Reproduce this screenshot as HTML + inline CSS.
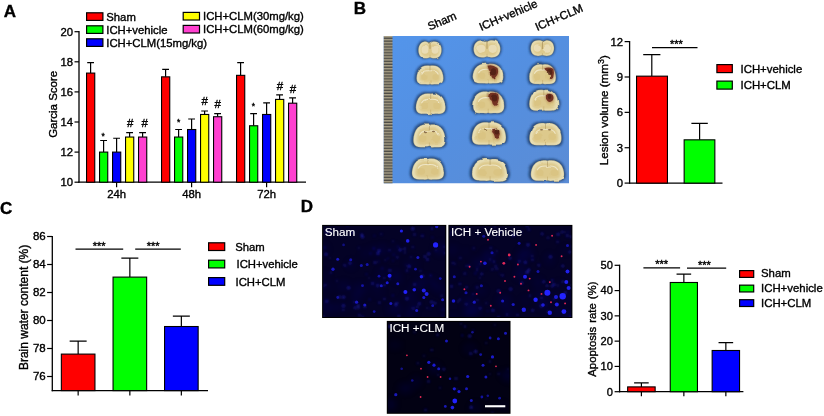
<!DOCTYPE html>
<html><head><meta charset="utf-8"><title>Figure</title>
<style>
html,body{margin:0;padding:0;background:#fff;}
body{width:824px;height:416px;overflow:hidden;font-family:"Liberation Sans",sans-serif;}
svg{display:block;filter:blur(0.35px)}
svg text{font-family:"Liberation Sans",sans-serif;stroke:#000;stroke-width:0.36px;} svg text.w{stroke:#fff;stroke-width:0.12px}
</style></head><body>
<svg width="824" height="416" viewBox="0 0 824 416">
<rect width="824" height="416" fill="#fff"/>
<text x="3.70" y="16.60" font-size="17" text-anchor="start" font-weight="bold" fill="#000" >A</text>
<text x="353.70" y="13.80" font-size="17" text-anchor="start" font-weight="bold" fill="#000" >B</text>
<text x="0.00" y="213.60" font-size="17" text-anchor="start" font-weight="bold" fill="#000" >C</text>
<text x="300.80" y="212.10" font-size="17" text-anchor="start" font-weight="bold" fill="#000" >D</text>
<line x1="79.00" y1="31.10" x2="79.00" y2="182.80" stroke="#000" stroke-width="1.3"/>
<line x1="78.40" y1="182.20" x2="306.00" y2="182.20" stroke="#000" stroke-width="1.3"/>
<line x1="74.50" y1="182.20" x2="79.00" y2="182.20" stroke="#000" stroke-width="1.2"/>
<text x="73.00" y="186.20" font-size="11.3" text-anchor="end" font-weight="normal" fill="#000" >10</text>
<line x1="74.50" y1="152.10" x2="79.00" y2="152.10" stroke="#000" stroke-width="1.2"/>
<text x="73.00" y="156.10" font-size="11.3" text-anchor="end" font-weight="normal" fill="#000" >12</text>
<line x1="74.50" y1="122.00" x2="79.00" y2="122.00" stroke="#000" stroke-width="1.2"/>
<text x="73.00" y="126.00" font-size="11.3" text-anchor="end" font-weight="normal" fill="#000" >14</text>
<line x1="74.50" y1="91.90" x2="79.00" y2="91.90" stroke="#000" stroke-width="1.2"/>
<text x="73.00" y="95.90" font-size="11.3" text-anchor="end" font-weight="normal" fill="#000" >16</text>
<line x1="74.50" y1="61.80" x2="79.00" y2="61.80" stroke="#000" stroke-width="1.2"/>
<text x="73.00" y="65.80" font-size="11.3" text-anchor="end" font-weight="normal" fill="#000" >18</text>
<line x1="74.50" y1="31.70" x2="79.00" y2="31.70" stroke="#000" stroke-width="1.2"/>
<text x="73.00" y="35.70" font-size="11.3" text-anchor="end" font-weight="normal" fill="#000" >20</text>
<text x="56.80" y="104.30" font-size="11.5" text-anchor="middle" font-weight="normal" fill="#000" transform="rotate(-90 56.8 104.3)">Garcia Score</text>
<path d="M90.60 73.09V62.55M87.20 62.55H94.00" stroke="#000" stroke-width="1.2" fill="none"/>
<rect x="86.55" y="73.09" width="8.20" height="109.11" fill="#ff0000" stroke="#000" stroke-width="1.1"/>
<path d="M103.60 152.10V140.51M100.20 140.51H107.00" stroke="#000" stroke-width="1.2" fill="none"/>
<rect x="99.55" y="152.10" width="8.20" height="30.10" fill="#00ff00" stroke="#000" stroke-width="1.1"/>
<path d="M116.60 152.10V138.25M113.20 138.25H120.00" stroke="#000" stroke-width="1.2" fill="none"/>
<rect x="112.55" y="152.10" width="8.20" height="30.10" fill="#0000ff" stroke="#000" stroke-width="1.1"/>
<path d="M129.60 137.05V132.53M126.20 132.53H133.00" stroke="#000" stroke-width="1.2" fill="none"/>
<rect x="125.55" y="137.05" width="8.20" height="45.15" fill="#ffff00" stroke="#000" stroke-width="1.1"/>
<path d="M142.60 137.05V132.53M139.20 132.53H146.00" stroke="#000" stroke-width="1.2" fill="none"/>
<rect x="138.55" y="137.05" width="8.20" height="45.15" fill="#ff40d0" stroke="#000" stroke-width="1.1"/>
<line x1="116.60" y1="182.20" x2="116.60" y2="187.20" stroke="#000" stroke-width="1.2"/>
<text x="116.60" y="197.50" font-size="11.3" text-anchor="middle" font-weight="normal" fill="#000" >24h</text>
<path d="M165.60 76.85V69.32M162.20 69.32H169.00" stroke="#000" stroke-width="1.2" fill="none"/>
<rect x="161.55" y="76.85" width="8.20" height="105.35" fill="#ff0000" stroke="#000" stroke-width="1.1"/>
<path d="M178.60 137.05V129.52M175.20 129.52H182.00" stroke="#000" stroke-width="1.2" fill="none"/>
<rect x="174.55" y="137.05" width="8.20" height="45.15" fill="#00ff00" stroke="#000" stroke-width="1.1"/>
<path d="M191.60 129.52V118.99M188.20 118.99H195.00" stroke="#000" stroke-width="1.2" fill="none"/>
<rect x="187.55" y="129.52" width="8.20" height="52.68" fill="#0000ff" stroke="#000" stroke-width="1.1"/>
<path d="M204.60 114.47V111.01M201.20 111.01H208.00" stroke="#000" stroke-width="1.2" fill="none"/>
<rect x="200.55" y="114.47" width="8.20" height="67.73" fill="#ffff00" stroke="#000" stroke-width="1.1"/>
<path d="M217.60 116.73V113.72M214.20 113.72H221.00" stroke="#000" stroke-width="1.2" fill="none"/>
<rect x="213.55" y="116.73" width="8.20" height="65.47" fill="#ff40d0" stroke="#000" stroke-width="1.1"/>
<line x1="191.60" y1="182.20" x2="191.60" y2="187.20" stroke="#000" stroke-width="1.2"/>
<text x="191.60" y="197.50" font-size="11.3" text-anchor="middle" font-weight="normal" fill="#000" >48h</text>
<path d="M240.60 75.34V62.55M237.20 62.55H244.00" stroke="#000" stroke-width="1.2" fill="none"/>
<rect x="236.55" y="75.34" width="8.20" height="106.86" fill="#ff0000" stroke="#000" stroke-width="1.1"/>
<path d="M253.60 125.76V113.72M250.20 113.72H257.00" stroke="#000" stroke-width="1.2" fill="none"/>
<rect x="249.55" y="125.76" width="8.20" height="56.44" fill="#00ff00" stroke="#000" stroke-width="1.1"/>
<path d="M266.60 114.47V102.89M263.20 102.89H270.00" stroke="#000" stroke-width="1.2" fill="none"/>
<rect x="262.55" y="114.47" width="8.20" height="67.73" fill="#0000ff" stroke="#000" stroke-width="1.1"/>
<path d="M279.60 99.42V94.91M276.20 94.91H283.00" stroke="#000" stroke-width="1.2" fill="none"/>
<rect x="275.55" y="99.42" width="8.20" height="82.78" fill="#ffff00" stroke="#000" stroke-width="1.1"/>
<path d="M292.60 103.19V97.92M289.20 97.92H296.00" stroke="#000" stroke-width="1.2" fill="none"/>
<rect x="288.55" y="103.19" width="8.20" height="79.01" fill="#ff40d0" stroke="#000" stroke-width="1.1"/>
<line x1="266.60" y1="182.20" x2="266.60" y2="187.20" stroke="#000" stroke-width="1.2"/>
<text x="266.60" y="197.50" font-size="11.3" text-anchor="middle" font-weight="normal" fill="#000" >72h</text>
<text x="130.20" y="126.80" font-size="11.5" text-anchor="middle" font-weight="normal" fill="#000" >#</text>
<text x="144.80" y="126.80" font-size="11.5" text-anchor="middle" font-weight="normal" fill="#000" >#</text>
<text x="204.80" y="105.20" font-size="11.5" text-anchor="middle" font-weight="normal" fill="#000" >#</text>
<text x="217.80" y="108.30" font-size="11.5" text-anchor="middle" font-weight="normal" fill="#000" >#</text>
<text x="280.00" y="90.00" font-size="11.5" text-anchor="middle" font-weight="normal" fill="#000" >#</text>
<text x="293.00" y="93.30" font-size="11.5" text-anchor="middle" font-weight="normal" fill="#000" >#</text>
<text x="103.20" y="138.90" font-size="8.5" text-anchor="middle" font-weight="normal" fill="#000" >*</text>
<text x="178.60" y="124.90" font-size="8.5" text-anchor="middle" font-weight="normal" fill="#000" >*</text>
<text x="253.40" y="109.40" font-size="8.5" text-anchor="middle" font-weight="normal" fill="#000" >*</text>
<rect x="86.60" y="12.80" width="16.30" height="7.60" fill="#ff0000" stroke="#000" stroke-width="1.2"/>
<text x="106.30" y="20.60" font-size="11.3" text-anchor="start" font-weight="normal" fill="#000" >Sham</text>
<rect x="86.60" y="25.80" width="16.30" height="7.60" fill="#00ff00" stroke="#000" stroke-width="1.2"/>
<text x="106.30" y="33.60" font-size="11.3" text-anchor="start" font-weight="normal" fill="#000" >ICH+vehicle</text>
<rect x="86.60" y="38.80" width="16.30" height="7.60" fill="#0000ff" stroke="#000" stroke-width="1.2"/>
<text x="106.30" y="46.60" font-size="11.3" text-anchor="start" font-weight="normal" fill="#000" >ICH+CLM(15mg/kg)</text>
<rect x="183.20" y="12.40" width="16.30" height="7.60" fill="#ffff00" stroke="#000" stroke-width="1.2"/>
<text x="203.00" y="20.30" font-size="11.3" text-anchor="start" font-weight="normal" fill="#000" >ICH+CLM(30mg/kg)</text>
<rect x="183.20" y="25.40" width="16.30" height="7.60" fill="#ff40d0" stroke="#000" stroke-width="1.2"/>
<text x="203.00" y="33.30" font-size="11.3" text-anchor="start" font-weight="normal" fill="#000" >ICH+CLM(60mg/kg)</text>
<defs>
<linearGradient id="bluebg" x1="0" y1="0" x2="1" y2="1">
<stop offset="0" stop-color="#5395eb"/><stop offset="0.5" stop-color="#548fe0"/><stop offset="1" stop-color="#5b8cd5"/></linearGradient>
<radialGradient id="brain" cx="0.5" cy="0.5" r="0.5">
<stop offset="0" stop-color="#e6d08a"/><stop offset="0.7" stop-color="#ead9a0"/><stop offset="1" stop-color="#efe4c0"/></radialGradient>
<pattern id="ruler" x="383.5" y="36.0" width="9" height="2.9" patternUnits="userSpaceOnUse">
<rect width="9" height="2.9" fill="#a89f86"/><rect y="1.5" width="9" height="1.4" fill="#4e4c46"/></pattern>
<filter id="b1" x="-5%" y="-5%" width="110%" height="110%"><feTurbulence type="fractalNoise" baseFrequency="0.09" numOctaves="2" seed="4" result="n"/><feDisplacementMap in="SourceGraphic" in2="n" scale="2.6" xChannelSelector="R" yChannelSelector="G" result="d"/><feGaussianBlur in="d" stdDeviation="0.9"/></filter>
<filter id="b2" x="-5%" y="-5%" width="110%" height="110%"><feTurbulence type="fractalNoise" baseFrequency="0.09" numOctaves="2" seed="4" result="n"/><feDisplacementMap in="SourceGraphic" in2="n" scale="2.6" xChannelSelector="R" yChannelSelector="G" result="d"/><feGaussianBlur in="d" stdDeviation="0.6"/></filter>
<filter id="b3" x="-50%" y="-50%" width="200%" height="200%"><feGaussianBlur stdDeviation="0.8"/></filter>
<filter id="b6" x="-50%" y="-50%" width="200%" height="200%"><feGaussianBlur stdDeviation="0.7"/></filter>
<filter id="b4" x="-50%" y="-50%" width="200%" height="200%"><feGaussianBlur stdDeviation="0.85"/></filter>
<filter id="b5" x="-50%" y="-50%" width="200%" height="200%"><feGaussianBlur stdDeviation="3"/></filter>
<clipPath id="pclip"><rect x="383.5" y="36.0" width="185.5" height="147.5"/></clipPath>
</defs>
<g clip-path="url(#pclip)">
<rect x="383.5" y="36.0" width="185.5" height="147.5" fill="url(#bluebg)"/>
<rect x="383.5" y="36.0" width="9" height="147.5" fill="url(#ruler)"/>
<g filter="url(#b1)">
<path d="M 429.70,42.22 C 432.34,38.93 438.95,39.43 441.33,43.92 C 443.58,48.40 442.92,53.89 440.27,56.88 C 437.63,59.37 432.34,59.57 429.70,57.57 C 427.06,59.57 421.77,59.37 419.13,56.88 C 416.48,53.89 415.82,48.40 418.07,43.92 C 420.45,39.43 427.06,38.93 429.70,42.22 Z" fill="#22406f" opacity="0.85"/>
<path d="M 486.70,41.06 C 489.75,37.70 497.36,38.21 500.10,42.79 C 502.69,47.38 501.93,52.99 498.89,56.04 C 495.84,58.59 489.75,58.80 486.70,56.76 C 483.65,58.80 477.56,58.59 474.51,56.04 C 471.47,52.99 470.71,47.38 473.30,42.79 C 476.04,38.21 483.65,37.70 486.70,41.06 Z" fill="#22406f" opacity="0.85"/>
<path d="M 542.10,40.91 C 544.77,37.84 551.43,38.30 553.83,42.49 C 556.09,46.67 555.43,51.78 552.76,54.57 C 550.10,56.90 544.77,57.08 542.10,55.22 C 539.43,57.08 534.10,56.90 531.44,54.57 C 528.77,51.78 528.11,46.67 530.37,42.49 C 532.77,38.30 539.43,37.84 542.10,40.91 Z" fill="#22406f" opacity="0.85"/>
<path d="M 429.70,64.29 C 434.20,63.07 439.61,64.40 442.31,69.06 C 444.26,72.38 445.31,77.93 444.41,81.03 C 443.66,84.14 440.51,85.36 436.45,85.02 C 434.20,84.91 431.95,85.69 429.70,84.58 C 427.45,85.69 425.20,84.91 422.95,85.02 C 418.89,85.36 415.74,84.14 414.99,81.03 C 414.09,77.93 415.14,72.38 417.09,69.06 C 419.79,64.40 425.20,63.07 429.70,64.29 Z" fill="#22406f" opacity="0.85"/>
<path d="M 487.70,62.68 C 492.84,61.42 499.01,62.79 502.09,67.59 C 504.32,71.02 505.52,76.73 504.49,79.93 C 503.64,83.12 500.04,84.38 495.41,84.04 C 492.84,83.92 490.27,84.72 487.70,83.58 C 485.13,84.72 482.56,83.92 479.99,84.04 C 475.36,84.38 471.76,83.12 470.91,79.93 C 469.88,76.73 471.08,71.02 473.31,67.59 C 476.39,62.79 482.56,61.42 487.70,62.68 Z" fill="#22406f" opacity="0.85"/>
<path d="M 542.30,63.17 C 546.77,61.90 552.13,63.29 554.81,68.13 C 556.75,71.59 557.79,77.36 556.90,80.59 C 556.15,83.82 553.03,85.09 549.00,84.74 C 546.77,84.63 544.53,85.44 542.30,84.28 C 540.07,85.44 537.83,84.63 535.60,84.74 C 531.57,85.09 528.45,83.82 527.70,80.59 C 526.81,77.36 527.85,71.59 529.79,68.13 C 532.47,63.29 537.83,61.90 542.30,63.17 Z" fill="#22406f" opacity="0.85"/>
<path d="M 430.40,92.25 C 435.37,90.94 441.34,92.37 444.32,97.41 C 446.48,101.00 447.64,107.00 446.64,110.35 C 445.82,113.71 442.33,115.02 437.86,114.66 C 435.37,114.55 432.89,115.38 430.40,114.19 C 427.91,115.38 425.43,114.55 422.94,114.66 C 418.47,115.02 414.98,113.71 414.16,110.35 C 413.16,107.00 414.32,101.00 416.48,97.41 C 419.46,92.37 425.43,90.94 430.40,92.25 Z" fill="#22406f" opacity="0.85"/>
<path d="M 487.90,90.33 C 493.28,88.94 499.73,90.46 502.95,95.77 C 505.28,99.57 506.54,105.90 505.46,109.44 C 504.57,112.98 500.80,114.38 495.96,114.00 C 493.28,113.87 490.59,114.76 487.90,113.49 C 485.21,114.76 482.52,113.87 479.84,114.00 C 475.00,114.38 471.23,112.98 470.34,109.44 C 469.26,105.90 470.52,99.57 472.85,95.77 C 476.07,90.46 482.52,88.94 487.90,90.33 Z" fill="#22406f" opacity="0.85"/>
<path d="M 543.50,88.65 C 548.37,87.30 554.22,88.77 557.14,93.90 C 559.25,97.56 560.39,103.66 559.42,107.08 C 558.60,110.50 555.19,111.84 550.81,111.48 C 548.37,111.35 545.94,112.21 543.50,110.99 C 541.06,112.21 538.63,111.35 536.19,111.48 C 531.81,111.84 528.40,110.50 527.58,107.08 C 526.61,103.66 527.75,97.56 529.86,93.90 C 532.78,88.77 538.63,87.30 543.50,88.65 Z" fill="#22406f" opacity="0.85"/>
<path d="M 429.10,123.10 C 434.48,121.62 440.93,123.24 444.15,128.88 C 446.48,132.91 447.74,139.63 446.66,143.40 C 445.77,147.16 442.00,148.64 437.16,148.23 C 434.48,148.10 431.79,149.04 429.10,147.70 C 426.41,149.04 423.72,148.10 421.04,148.23 C 416.20,148.64 412.43,147.16 411.54,143.40 C 410.46,139.63 411.72,132.91 414.05,128.88 C 417.27,123.24 423.72,121.62 429.10,123.10 Z" fill="#22406f" opacity="0.85"/>
<path d="M 488.70,120.91 C 494.41,119.46 501.27,121.04 504.69,126.59 C 507.17,130.56 508.50,137.16 507.36,140.87 C 506.41,144.57 502.41,146.02 497.27,145.62 C 494.41,145.49 491.56,146.42 488.70,145.09 C 485.84,146.42 482.99,145.49 480.13,145.62 C 474.99,146.02 470.99,144.57 470.04,140.87 C 468.90,137.16 470.23,130.56 472.71,126.59 C 476.13,121.04 482.99,119.46 488.70,120.91 Z" fill="#22406f" opacity="0.85"/>
<path d="M 545.20,121.82 C 550.58,120.39 557.03,121.95 560.25,127.40 C 562.58,131.30 563.84,137.80 562.76,141.44 C 561.87,145.07 558.10,146.50 553.26,146.11 C 550.58,145.98 547.89,146.89 545.20,145.59 C 542.51,146.89 539.82,145.98 537.14,146.11 C 532.30,146.50 528.53,145.07 527.64,141.44 C 526.56,137.80 527.82,131.30 530.15,127.40 C 533.37,121.95 539.82,120.39 545.20,121.82 Z" fill="#22406f" opacity="0.85"/>
<path d="M 427.70,157.34 C 433.08,155.99 439.53,157.47 442.75,162.64 C 445.08,166.34 446.34,172.50 445.26,175.95 C 444.37,179.40 440.60,180.75 435.76,180.38 C 433.08,180.26 430.39,181.12 427.70,179.89 C 425.01,181.12 422.32,180.26 419.64,180.38 C 414.80,180.75 411.03,179.40 410.14,175.95 C 409.06,172.50 410.32,166.34 412.65,162.64 C 415.87,157.47 422.32,155.99 427.70,157.34 Z" fill="#22406f" opacity="0.85"/>
<path d="M 489.80,157.73 C 495.85,156.32 503.11,157.85 506.73,163.22 C 509.36,167.05 510.77,173.43 509.56,177.01 C 508.55,180.58 504.32,181.98 498.87,181.60 C 495.85,181.47 492.82,182.37 489.80,181.09 C 486.78,182.37 483.75,181.47 480.73,181.60 C 475.28,181.98 471.05,180.58 470.04,177.01 C 468.83,173.43 470.24,167.05 472.87,163.22 C 476.49,157.85 483.75,156.32 489.80,157.73 Z" fill="#22406f" opacity="0.85"/>
<path d="M 547.20,159.15 C 552.78,157.84 559.47,159.27 562.82,164.31 C 565.23,167.90 566.54,173.90 565.42,177.25 C 564.49,180.61 560.59,181.92 555.57,181.56 C 552.78,181.45 549.99,182.28 547.20,181.09 C 544.41,182.28 541.62,181.45 538.83,181.56 C 533.81,181.92 529.91,180.61 528.98,177.25 C 527.86,173.90 529.17,167.90 531.58,164.31 C 534.93,159.27 541.62,157.84 547.20,159.15 Z" fill="#22406f" opacity="0.85"/>
</g><g filter="url(#b2)">
<path d="M 430.00,43.39 C 432.36,40.45 438.26,40.90 440.38,44.90 C 442.39,48.91 441.80,53.80 439.44,56.47 C 437.08,58.70 432.36,58.88 430.00,57.10 C 427.64,58.88 422.92,58.70 420.56,56.47 C 418.20,53.80 417.61,48.91 419.62,44.90 C 421.74,40.90 427.64,40.45 430.00,43.39 Z" fill="#e8dfb6" stroke="#7d7a5e" stroke-width="0.5" stroke-opacity="0.6"/>
<path d="M 430.00,44.97 C 431.89,42.62 436.61,42.98 438.31,46.18 C 439.91,49.39 439.44,53.30 437.55,55.44 C 435.66,57.22 431.89,57.36 430.00,55.94 C 428.11,57.36 424.34,57.22 422.45,55.44 C 420.56,53.30 420.09,49.39 421.69,46.18 C 423.39,42.98 428.11,42.62 430.00,44.97 Z" fill="#ddc98c" filter="url(#b3)"/>
<ellipse cx="425.0" cy="49.8" rx="3.5" ry="4.0" fill="#f1ead0" opacity="0.6"/>
<ellipse cx="435.0" cy="49.8" rx="3.5" ry="4.0" fill="#f1ead0" opacity="0.6"/>
<path d="M430 41.967999999999996V49.8" stroke="#a8905a" stroke-width="0.9" opacity="0.9"/>
<path d="M430 54.695V57.988" stroke="#c3a868" stroke-width="0.9" opacity="0.6"/>
<path d="M 487.00,42.25 C 489.72,39.24 496.52,39.70 498.97,43.79 C 501.28,47.89 500.60,52.89 497.88,55.62 C 495.16,57.90 489.72,58.08 487.00,56.26 C 484.28,58.08 478.84,57.90 476.12,55.62 C 473.40,52.89 472.72,47.89 475.03,43.79 C 477.48,39.70 484.28,39.24 487.00,42.25 Z" fill="#e8dfb6" stroke="#7d7a5e" stroke-width="0.5" stroke-opacity="0.6"/>
<path d="M 487.00,43.86 C 489.18,41.46 494.62,41.82 496.57,45.10 C 498.42,48.37 497.88,52.38 495.70,54.56 C 493.53,56.38 489.18,56.53 487.00,55.07 C 484.82,56.53 480.47,56.38 478.30,54.56 C 476.12,52.38 475.58,48.37 477.43,45.10 C 479.38,41.82 484.82,41.46 487.00,43.86 Z" fill="#ddc98c" filter="url(#b3)"/>
<ellipse cx="481.3" cy="48.8" rx="4.1" ry="4.1" fill="#f1ead0" opacity="0.6"/>
<ellipse cx="492.7" cy="48.8" rx="4.1" ry="4.1" fill="#f1ead0" opacity="0.6"/>
<path d="M487 40.792V48.8" stroke="#a8905a" stroke-width="0.9" opacity="0.9"/>
<path d="M487 53.805V57.172" stroke="#c3a868" stroke-width="0.9" opacity="0.6"/>
<path d="M 542.40,42.02 C 544.78,39.28 550.73,39.70 552.87,43.44 C 554.89,47.17 554.30,51.73 551.92,54.23 C 549.54,56.30 544.78,56.47 542.40,54.81 C 540.02,56.47 535.26,56.30 532.88,54.23 C 530.50,51.73 529.90,47.17 531.93,43.44 C 534.07,39.70 540.02,39.28 542.40,42.02 Z" fill="#e8dfb6" stroke="#7d7a5e" stroke-width="0.5" stroke-opacity="0.6"/>
<path d="M 542.40,43.52 C 544.30,41.33 549.06,41.66 550.78,44.65 C 552.40,47.64 551.92,51.29 550.02,53.28 C 548.11,54.94 544.30,55.07 542.40,53.74 C 540.50,55.07 536.69,54.94 534.78,53.28 C 532.88,51.29 532.40,47.64 534.02,44.65 C 535.74,41.66 540.50,41.33 542.40,43.52 Z" fill="#ddc98c" filter="url(#b3)"/>
<ellipse cx="537.4" cy="48.0" rx="3.6" ry="3.7" fill="#f1ead0" opacity="0.6"/>
<ellipse cx="547.4" cy="48.0" rx="3.6" ry="3.7" fill="#f1ead0" opacity="0.6"/>
<path d="M542.4 40.696V48.0" stroke="#a8905a" stroke-width="0.9" opacity="0.9"/>
<path d="M542.4 52.565V55.636" stroke="#c3a868" stroke-width="0.9" opacity="0.6"/>
<path d="M 430.00,65.79 C 434.02,64.70 438.84,65.89 441.26,70.05 C 443.00,73.02 443.94,77.97 443.13,80.74 C 442.46,83.51 439.65,84.60 436.03,84.31 C 434.02,84.21 432.01,84.90 430.00,83.91 C 427.99,84.90 425.98,84.21 423.97,84.31 C 420.35,84.60 417.54,83.51 416.87,80.74 C 416.06,77.97 417.00,73.02 418.74,70.05 C 421.16,65.89 425.98,64.70 430.00,65.79 Z" fill="#e8dfb6" stroke="#7d7a5e" stroke-width="0.5" stroke-opacity="0.6"/>
<path d="M 430.00,67.93 C 433.22,67.06 437.08,68.01 439.00,71.34 C 440.40,73.72 441.15,77.68 440.51,79.89 C 439.97,82.11 437.72,82.98 434.82,82.74 C 433.22,82.67 431.61,83.22 430.00,82.43 C 428.39,83.22 426.78,82.67 425.18,82.74 C 422.28,82.98 420.03,82.11 419.49,79.89 C 418.85,77.68 419.60,73.72 421.00,71.34 C 422.92,68.01 426.78,67.06 430.00,67.93 Z" fill="#ddc98c" filter="url(#b3)"/>
<path d="M421.7 74.5 Q423.3 70.0 430.0 70.8 Q436.7 70.0 438.3 74.5" stroke="#f4efd8" stroke-width="1.1" fill="none" opacity="0.75"/>
<ellipse cx="424.4" cy="77.0" rx="3.2" ry="3.0" fill="#d7be78" opacity="0.45"/>
<ellipse cx="435.6" cy="77.0" rx="3.2" ry="3.0" fill="#d7be78" opacity="0.45"/>
<path d="M430 66.288V70.545" stroke="#a8905a" stroke-width="0.9" opacity="0.6"/>
<path d="M430 80.445V84.108" stroke="#c3a868" stroke-width="0.9" opacity="0.6"/>
<path d="M 488.00,64.21 C 492.59,63.09 498.10,64.32 500.85,68.60 C 502.84,71.66 503.91,76.76 502.99,79.62 C 502.23,82.47 499.02,83.59 494.88,83.29 C 492.59,83.19 490.30,83.90 488.00,82.88 C 485.70,83.90 483.41,83.19 481.12,83.29 C 476.98,83.59 473.77,82.47 473.01,79.62 C 472.09,76.76 473.16,71.66 475.15,68.60 C 477.90,64.32 483.41,63.09 488.00,64.21 Z" fill="#e8dfb6" stroke="#7d7a5e" stroke-width="0.5" stroke-opacity="0.6"/>
<path d="M 488.00,66.41 C 491.67,65.51 496.08,66.49 498.28,69.92 C 499.87,72.37 500.73,76.45 500.00,78.73 C 499.38,81.02 496.81,81.92 493.51,81.67 C 491.67,81.59 489.84,82.16 488.00,81.34 C 486.16,82.16 484.33,81.59 482.49,81.67 C 479.19,81.92 476.62,81.02 476.00,78.73 C 475.27,76.45 476.13,72.37 477.72,69.92 C 479.92,66.49 484.33,65.51 488.00,66.41 Z" fill="#ddc98c" filter="url(#b3)"/>
<path d="M478.5 73.2 Q480.4 68.6 488.0 69.4 Q495.6 68.6 497.5 73.2" stroke="#f4efd8" stroke-width="1.1" fill="none" opacity="0.75"/>
<ellipse cx="481.6" cy="75.7" rx="3.7" ry="3.1" fill="#d7be78" opacity="0.45"/>
<ellipse cx="494.4" cy="75.7" rx="3.7" ry="3.1" fill="#d7be78" opacity="0.45"/>
<path d="M488 64.724V69.11" stroke="#a8905a" stroke-width="0.9" opacity="0.6"/>
<path d="M488 79.31V83.084" stroke="#c3a868" stroke-width="0.9" opacity="0.6"/>
<path d="M487,65 Q492,63.3 498,67.5 Q499.6,72 497.6,75.2 Q495,79.8 492.6,79 Q490.4,76 490.8,72.5 Q487.6,70 487,65 Z" fill="#96543a" opacity="0.5" stroke="#96543a" stroke-width="0.8" filter="url(#b3)"/>
<path d="M487,65 Q492,63.3 498,67.5 Q499.6,72 497.6,75.2 Q495,79.8 492.6,79 Q490.4,76 490.8,72.5 Q487.6,70 487,65 Z" fill="#733222" transform="translate(492.9 72.2) scale(0.9) translate(-492.9 -72.2)"/>
<ellipse cx="493.5" cy="71.8" rx="2.7" ry="3.5" fill="#4a1c12" opacity="0.75"/>
<path d="M 542.60,64.72 C 546.59,63.59 551.38,64.82 553.77,69.15 C 555.50,72.24 556.43,77.39 555.63,80.27 C 554.97,83.16 552.18,84.29 548.59,83.98 C 546.59,83.88 544.60,84.60 542.60,83.57 C 540.61,84.60 538.61,83.88 536.62,83.98 C 533.02,84.29 530.23,83.16 529.57,80.27 C 528.77,77.39 529.70,72.24 531.43,69.15 C 533.82,64.82 538.61,63.59 542.60,64.72 Z" fill="#e8dfb6" stroke="#7d7a5e" stroke-width="0.5" stroke-opacity="0.6"/>
<path d="M 542.60,66.94 C 545.79,66.03 549.62,67.02 551.54,70.48 C 552.92,72.95 553.67,77.07 553.03,79.38 C 552.50,81.69 550.26,82.59 547.39,82.35 C 545.79,82.26 544.20,82.84 542.60,82.02 C 541.00,82.84 539.41,82.26 537.81,82.35 C 534.94,82.59 532.70,81.69 532.17,79.38 C 531.53,77.07 532.28,72.95 533.66,70.48 C 535.58,67.02 539.41,66.03 542.60,66.94 Z" fill="#ddc98c" filter="url(#b3)"/>
<path d="M534.4 73.8 Q536.0 69.1 542.6 70.0 Q549.2 69.1 550.8 73.8" stroke="#f4efd8" stroke-width="1.1" fill="none" opacity="0.75"/>
<ellipse cx="537.0" cy="76.4" rx="3.2" ry="3.1" fill="#d7be78" opacity="0.45"/>
<ellipse cx="548.2" cy="76.4" rx="3.2" ry="3.1" fill="#d7be78" opacity="0.45"/>
<path d="M542.6 65.23599999999999V69.66499999999999" stroke="#a8905a" stroke-width="0.9" opacity="0.6"/>
<path d="M542.6 79.965V83.776" stroke="#c3a868" stroke-width="0.9" opacity="0.6"/>
<path d="M543.8,68 Q549,65.8 554,68.5 Q555.2,73 553.6,78 Q552,80.6 550.1,79.5 Q550.4,75 549.4,71.6 Q546,71.6 543.8,68 Z" fill="#96543a" opacity="0.5" stroke="#96543a" stroke-width="0.8" filter="url(#b3)"/>
<path d="M543.8,68 Q549,65.8 554,68.5 Q555.2,73 553.6,78 Q552,80.6 550.1,79.5 Q550.4,75 549.4,71.6 Q546,71.6 543.8,68 Z" fill="#733222" transform="translate(548.9 72.8) scale(0.9) translate(-548.9 -72.8)"/>
<ellipse cx="549.5" cy="72.2" rx="2.6" ry="3.2" fill="#4a1c12" opacity="0.75"/>
<path d="M 430.70,93.85 C 435.14,92.67 440.47,93.96 443.13,98.45 C 445.06,101.66 446.09,107.01 445.20,110.01 C 444.46,113.00 441.36,114.18 437.36,113.86 C 435.14,113.75 432.92,114.50 430.70,113.43 C 428.48,114.50 426.26,113.75 424.04,113.86 C 420.04,114.18 416.94,113.00 416.20,110.01 C 415.31,107.01 416.34,101.66 418.27,98.45 C 420.93,93.96 426.26,92.67 430.70,93.85 Z" fill="#e8dfb6" stroke="#7d7a5e" stroke-width="0.5" stroke-opacity="0.6"/>
<path d="M 430.70,96.14 C 434.25,95.20 438.51,96.22 440.65,99.82 C 442.18,102.39 443.01,106.67 442.30,109.06 C 441.71,111.46 439.22,112.40 436.03,112.15 C 434.25,112.06 432.48,112.66 430.70,111.80 C 428.92,112.66 427.15,112.06 425.37,112.15 C 422.18,112.40 419.69,111.46 419.10,109.06 C 418.39,106.67 419.22,102.39 420.75,99.82 C 422.89,96.22 427.15,95.20 430.70,96.14 Z" fill="#ddc98c" filter="url(#b3)"/>
<path d="M421.5 103.3 Q423.3 98.5 430.7 99.3 Q438.1 98.5 439.9 103.3" stroke="#f4efd8" stroke-width="1.1" fill="none" opacity="0.75"/>
<ellipse cx="424.5" cy="105.9" rx="3.6" ry="3.2" fill="#d7be78" opacity="0.45"/>
<ellipse cx="436.9" cy="105.9" rx="3.6" ry="3.2" fill="#d7be78" opacity="0.45"/>
<path d="M430.7 94.384V98.985" stroke="#a8905a" stroke-width="0.9" opacity="0.6"/>
<path d="M430.7 109.685V113.64399999999999" stroke="#c3a868" stroke-width="0.9" opacity="0.6"/>
<path d="M 488.20,91.99 C 493.00,90.75 498.76,92.10 501.64,96.85 C 503.72,100.24 504.84,105.89 503.88,109.05 C 503.08,112.22 499.72,113.46 495.40,113.12 C 493.00,113.01 490.60,113.80 488.20,112.67 C 485.80,113.80 483.40,113.01 481.00,113.12 C 476.68,113.46 473.32,112.22 472.52,109.05 C 471.56,105.89 472.68,100.24 474.76,96.85 C 477.64,92.10 483.40,90.75 488.20,91.99 Z" fill="#e8dfb6" stroke="#7d7a5e" stroke-width="0.5" stroke-opacity="0.6"/>
<path d="M 488.20,94.39 C 492.04,93.40 496.65,94.48 498.95,98.28 C 500.62,100.99 501.51,105.51 500.74,108.04 C 500.10,110.57 497.42,111.57 493.96,111.30 C 492.04,111.21 490.12,111.84 488.20,110.94 C 486.28,111.84 484.36,111.21 482.44,111.30 C 478.98,111.57 476.30,110.57 475.66,108.04 C 474.89,105.51 475.78,100.99 477.45,98.28 C 479.75,94.48 484.36,93.40 488.20,94.39 Z" fill="#ddc98c" filter="url(#b3)"/>
<path d="M478.3 101.9 Q480.2 96.8 488.2 97.8 Q496.2 96.8 498.1 101.9" stroke="#f4efd8" stroke-width="1.1" fill="none" opacity="0.75"/>
<ellipse cx="481.5" cy="104.8" rx="3.8" ry="3.4" fill="#d7be78" opacity="0.45"/>
<ellipse cx="494.9" cy="104.8" rx="3.8" ry="3.4" fill="#d7be78" opacity="0.45"/>
<path d="M488.2 92.556V97.41499999999999" stroke="#a8905a" stroke-width="0.9" opacity="0.6"/>
<path d="M488.2 108.715V112.896" stroke="#c3a868" stroke-width="0.9" opacity="0.6"/>
<path d="M489.5,93 Q494,90.8 498.6,93.5 Q500.2,98 498.6,102 Q497,107 494.4,106.5 Q492,105 491.5,101 Q487.3,99 489.5,93 Z" fill="#96543a" opacity="0.5" stroke="#96543a" stroke-width="0.8" filter="url(#b3)"/>
<path d="M489.5,93 Q494,90.8 498.6,93.5 Q500.2,98 498.6,102 Q497,107 494.4,106.5 Q492,105 491.5,101 Q487.3,99 489.5,93 Z" fill="#733222" transform="translate(494.0 98.5) scale(0.9) translate(-494.0 -98.5)"/>
<ellipse cx="494.6" cy="98.0" rx="2.6" ry="3.6" fill="#4a1c12" opacity="0.75"/>
<path d="M 543.80,90.26 C 548.15,89.06 553.37,90.37 555.98,94.95 C 557.87,98.22 558.88,103.67 558.01,106.72 C 557.28,109.77 554.24,110.97 550.32,110.65 C 548.15,110.54 545.97,111.30 543.80,110.21 C 541.62,111.30 539.45,110.54 537.27,110.65 C 533.36,110.97 530.31,109.77 529.59,106.72 C 528.72,103.67 529.73,98.22 531.62,94.95 C 534.23,90.37 539.45,89.06 543.80,90.26 Z" fill="#e8dfb6" stroke="#7d7a5e" stroke-width="0.5" stroke-opacity="0.6"/>
<path d="M 543.80,92.59 C 547.28,91.63 551.46,92.68 553.54,96.34 C 555.05,98.96 555.86,103.32 555.17,105.76 C 554.59,108.20 552.15,109.16 549.02,108.90 C 547.28,108.81 545.54,109.42 543.80,108.55 C 542.06,109.42 540.32,108.81 538.58,108.90 C 535.45,109.16 533.01,108.20 532.43,105.76 C 531.74,103.32 532.55,98.96 534.06,96.34 C 536.14,92.68 540.32,91.63 543.80,92.59 Z" fill="#ddc98c" filter="url(#b3)"/>
<path d="M534.8 99.9 Q536.5 95.0 543.8 95.8 Q551.0 95.0 552.8 99.9" stroke="#f4efd8" stroke-width="1.1" fill="none" opacity="0.75"/>
<ellipse cx="537.7" cy="102.6" rx="3.5" ry="3.3" fill="#d7be78" opacity="0.45"/>
<ellipse cx="549.9" cy="102.6" rx="3.5" ry="3.3" fill="#d7be78" opacity="0.45"/>
<path d="M543.8 90.808V95.495" stroke="#a8905a" stroke-width="0.9" opacity="0.6"/>
<path d="M543.8 106.39500000000001V110.42800000000001" stroke="#c3a868" stroke-width="0.9" opacity="0.6"/>
<path d="M545.5,95 Q549,92 553,94.5 Q555,98 553,101 Q550,103.6 547.5,101.5 Q545,99 545.5,95 Z" fill="#96543a" opacity="0.5" stroke="#96543a" stroke-width="0.8" filter="url(#b3)"/>
<path d="M545.5,95 Q549,92 553,94.5 Q555,98 553,101 Q550,103.6 547.5,101.5 Q545,99 545.5,95 Z" fill="#733222" transform="translate(548.9 97.1) scale(0.9) translate(-548.9 -97.1)"/>
<ellipse cx="549.5" cy="96.6" rx="1.7" ry="2.5" fill="#4a1c12" opacity="0.75"/>
<path d="M 429.40,124.84 C 434.20,123.52 439.96,124.96 442.84,130.00 C 444.92,133.60 446.04,139.60 445.08,142.96 C 444.28,146.32 440.92,147.64 436.60,147.28 C 434.20,147.16 431.80,148.00 429.40,146.80 C 427.00,148.00 424.60,147.16 422.20,147.28 C 417.88,147.64 414.52,146.32 413.72,142.96 C 412.76,139.60 413.88,133.60 415.96,130.00 C 418.84,124.96 424.60,123.52 429.40,124.84 Z" fill="#e8dfb6" stroke="#7d7a5e" stroke-width="0.5" stroke-opacity="0.6"/>
<path d="M 429.40,127.37 C 433.24,126.32 437.85,127.47 440.15,131.50 C 441.82,134.38 442.71,139.18 441.94,141.87 C 441.30,144.56 438.62,145.61 435.16,145.32 C 433.24,145.23 431.32,145.90 429.40,144.94 C 427.48,145.90 425.56,145.23 423.64,145.32 C 420.18,145.61 417.50,144.56 416.86,141.87 C 416.09,139.18 416.98,134.38 418.65,131.50 C 420.95,127.47 425.56,126.32 429.40,127.37 Z" fill="#ddc98c" filter="url(#b3)"/>
<path d="M419.5 135.4 Q421.4 130.0 429.4 131.0 Q437.4 130.0 439.3 135.4" stroke="#f4efd8" stroke-width="1.1" fill="none" opacity="0.75"/>
<ellipse cx="422.7" cy="138.4" rx="3.8" ry="3.6" fill="#d7be78" opacity="0.45"/>
<ellipse cx="436.1" cy="138.4" rx="3.8" ry="3.6" fill="#d7be78" opacity="0.45"/>
<path d="M429.4 125.44V130.6" stroke="#a8905a" stroke-width="0.9" opacity="0.6"/>
<path d="M429.4 142.6V147.04" stroke="#c3a868" stroke-width="0.9" opacity="0.6"/>
<path d="M 489.00,122.63 C 494.10,121.33 500.22,122.74 503.28,127.70 C 505.49,131.24 506.68,137.14 505.66,140.44 C 504.81,143.75 501.24,145.05 496.65,144.69 C 494.10,144.57 491.55,145.40 489.00,144.22 C 486.45,145.40 483.90,144.57 481.35,144.69 C 476.76,145.05 473.19,143.75 472.34,140.44 C 471.32,137.14 472.51,131.24 474.72,127.70 C 477.78,122.74 483.90,121.33 489.00,122.63 Z" fill="#e8dfb6" stroke="#7d7a5e" stroke-width="0.5" stroke-opacity="0.6"/>
<path d="M 489.00,125.12 C 493.08,124.08 497.98,125.22 500.42,129.18 C 502.19,132.01 503.14,136.73 502.33,139.38 C 501.65,142.02 498.79,143.06 495.12,142.77 C 493.08,142.68 491.04,143.34 489.00,142.40 C 486.96,143.34 484.92,142.68 482.88,142.77 C 479.21,143.06 476.35,142.02 475.67,139.38 C 474.86,136.73 475.81,132.01 477.58,129.18 C 480.02,125.22 484.92,124.08 489.00,125.12 Z" fill="#ddc98c" filter="url(#b3)"/>
<path d="M478.5 133.0 Q480.5 127.7 489.0 128.6 Q497.5 127.7 499.5 133.0" stroke="#f4efd8" stroke-width="1.1" fill="none" opacity="0.75"/>
<ellipse cx="481.9" cy="136.0" rx="4.1" ry="3.5" fill="#d7be78" opacity="0.45"/>
<ellipse cx="496.1" cy="136.0" rx="4.1" ry="3.5" fill="#d7be78" opacity="0.45"/>
<path d="M489 123.216V128.29" stroke="#a8905a" stroke-width="0.9" opacity="0.6"/>
<path d="M489 140.09V144.456" stroke="#c3a868" stroke-width="0.9" opacity="0.6"/>
<path d="M492,129 Q496,127.4 499.6,130.5 Q501,134 499,137.6 Q497,140.6 495,139 Q494.5,136 493.4,134 Q490.8,132 492,129 Z" fill="#96543a" opacity="0.5" stroke="#96543a" stroke-width="0.8" filter="url(#b3)"/>
<path d="M492,129 Q496,127.4 499.6,130.5 Q501,134 499,137.6 Q497,140.6 495,139 Q494.5,136 493.4,134 Q490.8,132 492,129 Z" fill="#733222" transform="translate(496.1 132.1) scale(0.9) translate(-496.1 -132.1)"/>
<ellipse cx="496.8" cy="131.6" rx="2.4" ry="3.0" fill="#4a1c12" opacity="0.75"/>
<path d="M 545.50,123.51 C 550.30,122.24 556.06,123.63 558.94,128.50 C 561.02,131.98 562.14,137.78 561.18,141.03 C 560.38,144.28 557.02,145.55 552.70,145.20 C 550.30,145.09 547.90,145.90 545.50,144.74 C 543.10,145.90 540.70,145.09 538.30,145.20 C 533.98,145.55 530.62,144.28 529.82,141.03 C 528.86,137.78 529.98,131.98 532.06,128.50 C 534.94,123.63 540.70,122.24 545.50,123.51 Z" fill="#e8dfb6" stroke="#7d7a5e" stroke-width="0.5" stroke-opacity="0.6"/>
<path d="M 545.50,125.97 C 549.34,124.95 553.95,126.06 556.25,129.96 C 557.92,132.74 558.81,137.38 558.04,139.98 C 557.40,142.58 554.72,143.60 551.26,143.32 C 549.34,143.23 547.42,143.88 545.50,142.95 C 543.58,143.88 541.66,143.23 539.74,143.32 C 536.28,143.60 533.60,142.58 532.96,139.98 C 532.19,137.38 533.08,132.74 534.75,129.96 C 537.05,126.06 541.66,124.95 545.50,125.97 Z" fill="#ddc98c" filter="url(#b3)"/>
<path d="M535.6 133.7 Q537.5 128.5 545.5 129.4 Q553.5 128.5 555.4 133.7" stroke="#f4efd8" stroke-width="1.1" fill="none" opacity="0.75"/>
<ellipse cx="538.8" cy="136.6" rx="3.8" ry="3.5" fill="#d7be78" opacity="0.45"/>
<ellipse cx="552.2" cy="136.6" rx="3.8" ry="3.5" fill="#d7be78" opacity="0.45"/>
<path d="M545.5 124.09200000000001V129.08" stroke="#a8905a" stroke-width="0.9" opacity="0.6"/>
<path d="M545.5 140.68V144.972" stroke="#c3a868" stroke-width="0.9" opacity="0.6"/>
<path d="M 428.00,158.97 C 432.80,157.76 438.56,159.08 441.44,163.70 C 443.52,167.00 444.64,172.50 443.68,175.58 C 442.88,178.66 439.52,179.87 435.20,179.54 C 432.80,179.43 430.40,180.20 428.00,179.10 C 425.60,180.20 423.20,179.43 420.80,179.54 C 416.48,179.87 413.12,178.66 412.32,175.58 C 411.36,172.50 412.48,167.00 414.56,163.70 C 417.44,159.08 423.20,157.76 428.00,158.97 Z" fill="#e8dfb6" stroke="#7d7a5e" stroke-width="0.5" stroke-opacity="0.6"/>
<path d="M 428.00,161.32 C 431.84,160.35 436.45,161.40 438.75,165.10 C 440.42,167.74 441.31,172.14 440.54,174.60 C 439.90,177.07 437.22,178.04 433.76,177.77 C 431.84,177.68 429.92,178.30 428.00,177.42 C 426.08,178.30 424.16,177.68 422.24,177.77 C 418.78,178.04 416.10,177.07 415.46,174.60 C 414.69,172.14 415.58,167.74 417.25,165.10 C 419.55,161.40 424.16,160.35 428.00,161.32 Z" fill="#ddc98c" filter="url(#b3)"/>
<path d="M418.1 168.6 Q420.0 163.7 428.0 164.6 Q436.0 163.7 437.9 168.6" stroke="#f4efd8" stroke-width="1.1" fill="none" opacity="0.75"/>
<ellipse cx="421.3" cy="171.4" rx="3.8" ry="3.3" fill="#d7be78" opacity="0.45"/>
<ellipse cx="434.7" cy="171.4" rx="3.8" ry="3.3" fill="#d7be78" opacity="0.45"/>
<path d="M428 159.51999999999998V164.25" stroke="#a8905a" stroke-width="0.9" opacity="0.6"/>
<path d="M428 175.25V179.32" stroke="#c3a868" stroke-width="0.9" opacity="0.6"/>
<path d="M 490.10,159.40 C 495.50,158.14 501.98,159.51 505.22,164.30 C 507.56,167.72 508.82,173.42 507.74,176.61 C 506.84,179.80 503.06,181.06 498.20,180.72 C 495.50,180.60 492.80,181.40 490.10,180.26 C 487.40,181.40 484.70,180.60 482.00,180.72 C 477.14,181.06 473.36,179.80 472.46,176.61 C 471.38,173.42 472.64,167.72 474.98,164.30 C 478.22,159.51 484.70,158.14 490.10,159.40 Z" fill="#e8dfb6" stroke="#7d7a5e" stroke-width="0.5" stroke-opacity="0.6"/>
<path d="M 490.10,161.82 C 494.42,160.82 499.60,161.91 502.20,165.74 C 504.07,168.48 505.08,173.04 504.21,175.59 C 503.49,178.14 500.47,179.15 496.58,178.87 C 494.42,178.78 492.26,179.42 490.10,178.51 C 487.94,179.42 485.78,178.78 483.62,178.87 C 479.73,179.15 476.71,178.14 475.99,175.59 C 475.12,173.04 476.13,168.48 478.00,165.74 C 480.60,161.91 485.78,160.82 490.10,161.82 Z" fill="#ddc98c" filter="url(#b3)"/>
<path d="M478.9 169.4 Q481.1 164.3 490.1 165.2 Q499.1 164.3 501.3 169.4" stroke="#f4efd8" stroke-width="1.1" fill="none" opacity="0.75"/>
<ellipse cx="482.5" cy="172.3" rx="4.3" ry="3.4" fill="#d7be78" opacity="0.45"/>
<ellipse cx="497.7" cy="172.3" rx="4.3" ry="3.4" fill="#d7be78" opacity="0.45"/>
<path d="M490.1 159.968V164.87" stroke="#a8905a" stroke-width="0.9" opacity="0.6"/>
<path d="M490.1 176.27V180.488" stroke="#c3a868" stroke-width="0.9" opacity="0.6"/>
<path d="M 547.50,160.75 C 552.48,159.57 558.46,160.86 561.44,165.35 C 563.60,168.56 564.76,173.91 563.77,176.91 C 562.94,179.90 559.45,181.08 554.97,180.76 C 552.48,180.65 549.99,181.40 547.50,180.33 C 545.01,181.40 542.52,180.65 540.03,180.76 C 535.55,181.08 532.06,179.90 531.23,176.91 C 530.24,173.91 531.40,168.56 533.56,165.35 C 536.54,160.86 542.52,159.57 547.50,160.75 Z" fill="#e8dfb6" stroke="#7d7a5e" stroke-width="0.5" stroke-opacity="0.6"/>
<path d="M 547.50,163.04 C 551.48,162.10 556.26,163.12 558.66,166.72 C 560.38,169.29 561.31,173.57 560.51,175.96 C 559.85,178.36 557.06,179.30 553.48,179.05 C 551.48,178.96 549.49,179.56 547.50,178.70 C 545.51,179.56 543.52,178.96 541.52,179.05 C 537.94,179.30 535.15,178.36 534.49,175.96 C 533.69,173.57 534.62,169.29 536.34,166.72 C 538.74,163.12 543.52,162.10 547.50,163.04 Z" fill="#ddc98c" filter="url(#b3)"/>
<path d="M537.2 170.2 Q539.2 165.3 547.5 166.2 Q555.8 165.3 557.8 170.2" stroke="#f4efd8" stroke-width="1.1" fill="none" opacity="0.75"/>
<ellipse cx="540.5" cy="172.8" rx="4.0" ry="3.2" fill="#d7be78" opacity="0.45"/>
<ellipse cx="554.5" cy="172.8" rx="4.0" ry="3.2" fill="#d7be78" opacity="0.45"/>
<path d="M547.5 161.284V165.885" stroke="#a8905a" stroke-width="0.9" opacity="0.6"/>
<path d="M547.5 176.58499999999998V180.54399999999998" stroke="#c3a868" stroke-width="0.9" opacity="0.6"/>
<ellipse cx="425.5" cy="131.5" rx="1.6" ry="0.7" fill="#6b4a28" opacity="0.75"/>
<ellipse cx="433.5" cy="131.5" rx="1.6" ry="0.7" fill="#6b4a28" opacity="0.75"/>
<ellipse cx="541.5" cy="129.8" rx="1.6" ry="0.7" fill="#6b4a28" opacity="0.75"/>
<ellipse cx="549.5" cy="129.8" rx="1.6" ry="0.7" fill="#6b4a28" opacity="0.75"/>
<ellipse cx="485.5" cy="130.2" rx="1.6" ry="0.7" fill="#6b4a28" opacity="0.75"/>
</g></g>
<text x="429.80" y="30.60" font-size="11.5" text-anchor="start" font-weight="normal" fill="#000" transform="rotate(-23.4 429.8 30.6)">Sham</text>
<text x="481.20" y="31.10" font-size="11.5" text-anchor="start" font-weight="normal" fill="#000" transform="rotate(-23.4 481.2 31.1)">ICH+vehicle</text>
<text x="537.20" y="31.00" font-size="11.5" text-anchor="start" font-weight="normal" fill="#000" transform="rotate(-23.4 537.2 31.0)">ICH+CLM</text>
<line x1="629.60" y1="41.02" x2="629.60" y2="183.70" stroke="#000" stroke-width="1.3"/>
<line x1="629.00" y1="183.10" x2="722.50" y2="183.10" stroke="#000" stroke-width="1.3"/>
<line x1="624.60" y1="183.10" x2="629.60" y2="183.10" stroke="#000" stroke-width="1.2"/>
<text x="623.10" y="187.10" font-size="11.3" text-anchor="end" font-weight="normal" fill="#000" >0</text>
<line x1="624.60" y1="147.73" x2="629.60" y2="147.73" stroke="#000" stroke-width="1.2"/>
<text x="623.10" y="151.73" font-size="11.3" text-anchor="end" font-weight="normal" fill="#000" >3</text>
<line x1="624.60" y1="112.36" x2="629.60" y2="112.36" stroke="#000" stroke-width="1.2"/>
<text x="623.10" y="116.36" font-size="11.3" text-anchor="end" font-weight="normal" fill="#000" >6</text>
<line x1="624.60" y1="76.99" x2="629.60" y2="76.99" stroke="#000" stroke-width="1.2"/>
<text x="623.10" y="80.99" font-size="11.3" text-anchor="end" font-weight="normal" fill="#000" >9</text>
<line x1="624.60" y1="41.62" x2="629.60" y2="41.62" stroke="#000" stroke-width="1.2"/>
<text x="623.10" y="45.62" font-size="11.3" text-anchor="end" font-weight="normal" fill="#000" >12</text>
<path d="M651.80 76.16V54.59M643.20 54.59H660.40" stroke="#000" stroke-width="1.2" fill="none"/>
<rect x="636.55" y="76.16" width="30.90" height="106.94" fill="#ff0000" stroke="#000" stroke-width="1.1"/>
<path d="M699.60 139.83V123.44M691.40 123.44H707.80" stroke="#000" stroke-width="1.2" fill="none"/>
<rect x="684.15" y="139.83" width="30.70" height="43.27" fill="#00ff00" stroke="#000" stroke-width="1.1"/>
<line x1="652.00" y1="47.60" x2="697.50" y2="47.60" stroke="#000" stroke-width="1.3"/>
<text x="676.30" y="47.70" font-size="11" text-anchor="middle" font-weight="normal" fill="#000" >***</text>
<text font-size="11.6" text-anchor="middle" transform="translate(607.6 110.2) rotate(-90)">Lesion volume (mm<tspan dy="-3.5" font-size="9">3</tspan><tspan dy="3.5">)</tspan></text>
<rect x="716.90" y="64.60" width="15.40" height="8.00" fill="#ff0000" stroke="#000" stroke-width="1.2"/>
<text x="740.50" y="72.50" font-size="11.4" text-anchor="start" font-weight="normal" fill="#000" >ICH+vehicle</text>
<rect x="716.90" y="81.10" width="15.40" height="8.00" fill="#00ff00" stroke="#000" stroke-width="1.2"/>
<text x="740.50" y="88.90" font-size="11.4" text-anchor="start" font-weight="normal" fill="#000" >ICH+CLM</text>
<line x1="52.30" y1="235.90" x2="52.30" y2="391.20" stroke="#000" stroke-width="1.3"/>
<line x1="51.70" y1="390.60" x2="208.00" y2="390.60" stroke="#000" stroke-width="1.3"/>
<line x1="47.10" y1="376.50" x2="52.30" y2="376.50" stroke="#000" stroke-width="1.2"/>
<text x="45.70" y="379.80" font-size="11.5" text-anchor="end" font-weight="normal" fill="#000" >76</text>
<line x1="47.10" y1="348.50" x2="52.30" y2="348.50" stroke="#000" stroke-width="1.2"/>
<text x="45.70" y="351.80" font-size="11.5" text-anchor="end" font-weight="normal" fill="#000" >78</text>
<line x1="47.10" y1="320.50" x2="52.30" y2="320.50" stroke="#000" stroke-width="1.2"/>
<text x="45.70" y="323.80" font-size="11.5" text-anchor="end" font-weight="normal" fill="#000" >80</text>
<line x1="47.10" y1="292.50" x2="52.30" y2="292.50" stroke="#000" stroke-width="1.2"/>
<text x="45.70" y="295.80" font-size="11.5" text-anchor="end" font-weight="normal" fill="#000" >82</text>
<line x1="47.10" y1="264.50" x2="52.30" y2="264.50" stroke="#000" stroke-width="1.2"/>
<text x="45.70" y="267.80" font-size="11.5" text-anchor="end" font-weight="normal" fill="#000" >84</text>
<line x1="47.10" y1="236.50" x2="52.30" y2="236.50" stroke="#000" stroke-width="1.2"/>
<text x="45.70" y="239.80" font-size="11.5" text-anchor="end" font-weight="normal" fill="#000" >86</text>
<path d="M78.15 354.10V341.22M69.65 341.22H86.65" stroke="#000" stroke-width="1.2" fill="none"/>
<rect x="61.35" y="354.10" width="33.60" height="36.50" fill="#ff0000" stroke="#000" stroke-width="1.1"/>
<line x1="78.15" y1="390.60" x2="78.15" y2="395.60" stroke="#000" stroke-width="1.2"/>
<path d="M129.85 277.10V258.20M121.35 258.20H138.35" stroke="#000" stroke-width="1.2" fill="none"/>
<rect x="113.05" y="277.10" width="33.60" height="113.50" fill="#00ff00" stroke="#000" stroke-width="1.1"/>
<line x1="129.85" y1="390.60" x2="129.85" y2="395.60" stroke="#000" stroke-width="1.2"/>
<path d="M181.35 326.52V316.16M172.85 316.16H189.85" stroke="#000" stroke-width="1.2" fill="none"/>
<rect x="164.55" y="326.52" width="33.60" height="64.08" fill="#0000ff" stroke="#000" stroke-width="1.1"/>
<line x1="181.35" y1="390.60" x2="181.35" y2="395.60" stroke="#000" stroke-width="1.2"/>
<line x1="75.50" y1="249.10" x2="123.20" y2="249.10" stroke="#000" stroke-width="1.3"/>
<text x="99.20" y="249.60" font-size="11" text-anchor="middle" font-weight="normal" fill="#000" >***</text>
<line x1="135.20" y1="249.10" x2="180.80" y2="249.10" stroke="#000" stroke-width="1.3"/>
<text x="153.20" y="249.60" font-size="11" text-anchor="middle" font-weight="normal" fill="#000" >***</text>
<text x="27.60" y="307.40" font-size="12" text-anchor="middle" font-weight="normal" fill="#000" transform="rotate(-90 27.6 307.4)">Brain water content (%)</text>
<rect x="208.60" y="242.80" width="16.10" height="7.70" fill="#ff0000" stroke="#000" stroke-width="1.2"/>
<text x="235.20" y="250.60" font-size="11.3" text-anchor="start" font-weight="normal" fill="#000" >Sham</text>
<rect x="208.60" y="260.20" width="16.10" height="7.70" fill="#00ff00" stroke="#000" stroke-width="1.2"/>
<text x="236.50" y="268.20" font-size="11.3" text-anchor="start" font-weight="normal" fill="#000" >ICH+vehicle</text>
<rect x="208.60" y="277.60" width="16.10" height="7.70" fill="#0000ff" stroke="#000" stroke-width="1.2"/>
<text x="235.50" y="285.80" font-size="11.3" text-anchor="start" font-weight="normal" fill="#000" >ICH+CLM</text>
<rect x="322.1" y="224.9" width="124.2" height="93.1" fill="#000"/>
<rect x="323.1" y="225.9" width="122.2" height="91.1" fill="#040226"/>
<svg x="323.1" y="225.9" width="122.2" height="91.1" viewBox="323.1 225.9 122.2 91.1">
<g filter="url(#b5)">
<ellipse cx="338.8" cy="307.3" rx="6.8" ry="4.0" fill="#1818a8" opacity="0.10"/>
<ellipse cx="377.9" cy="293.7" rx="6.9" ry="3.4" fill="#1818a8" opacity="0.05"/>
<ellipse cx="425.9" cy="278.4" rx="6.8" ry="3.0" fill="#1818a8" opacity="0.09"/>
<ellipse cx="411.7" cy="264.1" rx="7.7" ry="6.6" fill="#1818a8" opacity="0.05"/>
<ellipse cx="325.3" cy="286.0" rx="7.7" ry="4.5" fill="#1818a8" opacity="0.07"/>
<ellipse cx="374.5" cy="250.2" rx="4.1" ry="4.8" fill="#1818a8" opacity="0.10"/>
<ellipse cx="351.0" cy="264.3" rx="4.1" ry="4.8" fill="#1818a8" opacity="0.08"/>
<ellipse cx="324.8" cy="306.7" rx="5.8" ry="5.6" fill="#1818a8" opacity="0.07"/>
<ellipse cx="445.4" cy="308.2" rx="3.6" ry="4.3" fill="#1818a8" opacity="0.12"/>
<ellipse cx="410.4" cy="313.6" rx="5.1" ry="6.3" fill="#1818a8" opacity="0.12"/>
<ellipse cx="359.8" cy="289.2" rx="7.4" ry="6.4" fill="#1818a8" opacity="0.10"/>
<ellipse cx="395.3" cy="250.6" rx="4.2" ry="6.2" fill="#1818a8" opacity="0.09"/>
<ellipse cx="343.6" cy="286.5" rx="6.5" ry="5.7" fill="#1818a8" opacity="0.09"/>
<ellipse cx="376.6" cy="283.7" rx="6.9" ry="5.1" fill="#1818a8" opacity="0.09"/>
<ellipse cx="382.9" cy="250.2" rx="3.2" ry="5.8" fill="#1818a8" opacity="0.15"/>
<ellipse cx="395.8" cy="275.7" rx="3.9" ry="5.0" fill="#1818a8" opacity="0.15"/>
<ellipse cx="417.8" cy="285.9" rx="7.3" ry="3.9" fill="#1818a8" opacity="0.10"/>
<ellipse cx="440.4" cy="288.5" rx="5.3" ry="4.1" fill="#1818a8" opacity="0.10"/>
<ellipse cx="441.0" cy="248.6" rx="6.9" ry="6.3" fill="#1818a8" opacity="0.14"/>
<ellipse cx="414.1" cy="304.7" rx="5.6" ry="5.2" fill="#1818a8" opacity="0.09"/>
<ellipse cx="329.1" cy="308.9" rx="5.8" ry="3.8" fill="#1818a8" opacity="0.10"/>
<ellipse cx="382.3" cy="273.1" rx="4.7" ry="5.2" fill="#1818a8" opacity="0.11"/>
<ellipse cx="398.2" cy="280.2" rx="3.1" ry="3.9" fill="#1818a8" opacity="0.07"/>
<ellipse cx="394.7" cy="308.3" rx="7.0" ry="6.2" fill="#1818a8" opacity="0.13"/>
<ellipse cx="353.8" cy="306.9" rx="6.4" ry="3.3" fill="#1818a8" opacity="0.05"/>
<ellipse cx="323.9" cy="300.9" rx="4.2" ry="3.4" fill="#1818a8" opacity="0.11"/>
<ellipse cx="364.9" cy="253.0" rx="3.8" ry="5.1" fill="#1818a8" opacity="0.07"/>
<ellipse cx="356.0" cy="297.9" rx="5.3" ry="4.3" fill="#1818a8" opacity="0.10"/>
<ellipse cx="325.0" cy="275.2" rx="5.1" ry="3.8" fill="#1818a8" opacity="0.06"/>
<ellipse cx="433.9" cy="283.8" rx="4.0" ry="5.4" fill="#1818a8" opacity="0.13"/>
<ellipse cx="324.7" cy="249.4" rx="3.7" ry="5.9" fill="#1818a8" opacity="0.07"/>
<ellipse cx="409.6" cy="295.5" rx="5.7" ry="3.9" fill="#1818a8" opacity="0.15"/>
<ellipse cx="421.2" cy="284.2" rx="4.1" ry="5.6" fill="#1818a8" opacity="0.09"/>
</g><g filter="url(#b4)">
<circle cx="393.6" cy="254.8" r="1.3" fill="#2a2ae0" opacity="0.17"/>
<circle cx="359.2" cy="315.0" r="1.5" fill="#2a2ae0" opacity="0.28"/>
<circle cx="428.7" cy="253.8" r="1.6" fill="#2a2ae0" opacity="0.46"/>
<circle cx="373.8" cy="248.4" r="0.9" fill="#2a2ae0" opacity="0.52"/>
<circle cx="326.8" cy="301.2" r="1.6" fill="#2a2ae0" opacity="0.39"/>
<circle cx="343.4" cy="305.7" r="1.6" fill="#2a2ae0" opacity="0.45"/>
<circle cx="385.3" cy="260.1" r="1.1" fill="#2a2ae0" opacity="0.24"/>
<circle cx="405.8" cy="265.2" r="1.0" fill="#2a2ae0" opacity="0.19"/>
<circle cx="404.8" cy="252.5" r="1.2" fill="#2a2ae0" opacity="0.29"/>
<circle cx="430.4" cy="308.7" r="0.9" fill="#2a2ae0" opacity="0.23"/>
<circle cx="362.8" cy="316.8" r="1.4" fill="#2a2ae0" opacity="0.29"/>
<circle cx="348.6" cy="287.7" r="1.5" fill="#2a2ae0" opacity="0.54"/>
<circle cx="364.8" cy="307.1" r="1.4" fill="#2a2ae0" opacity="0.35"/>
<circle cx="444.5" cy="246.7" r="1.4" fill="#2a2ae0" opacity="0.19"/>
<circle cx="343.2" cy="309.7" r="1.0" fill="#2a2ae0" opacity="0.47"/>
<circle cx="396.6" cy="303.2" r="1.2" fill="#2a2ae0" opacity="0.29"/>
<circle cx="358.3" cy="305.7" r="1.3" fill="#2a2ae0" opacity="0.55"/>
<circle cx="432.3" cy="237.5" r="1.3" fill="#2a2ae0" opacity="0.19"/>
<circle cx="327.0" cy="231.7" r="1.5" fill="#2a2ae0" opacity="0.48"/>
<circle cx="425.0" cy="256.6" r="1.3" fill="#2a2ae0" opacity="0.48"/>
<circle cx="369.1" cy="278.0" r="1.1" fill="#2a2ae0" opacity="0.18"/>
<circle cx="355.2" cy="307.8" r="1.3" fill="#2a2ae0" opacity="0.54"/>
<circle cx="379.0" cy="250.7" r="1.5" fill="#2a2ae0" opacity="0.50"/>
<circle cx="323.6" cy="287.3" r="1.0" fill="#2a2ae0" opacity="0.20"/>
<circle cx="432.0" cy="228.6" r="1.1" fill="#2a2ae0" opacity="0.57"/>
<circle cx="374.4" cy="235.7" r="1.0" fill="#2a2ae0" opacity="0.25"/>
<circle cx="414.5" cy="234.5" r="1.5" fill="#2a2ae0" opacity="0.31"/>
<circle cx="442.6" cy="309.5" r="1.1" fill="#2a2ae0" opacity="0.26"/>
<circle cx="381.3" cy="234.2" r="1.4" fill="#2a2ae0" opacity="0.17"/>
<circle cx="323.4" cy="316.4" r="1.1" fill="#2a2ae0" opacity="0.40"/>
<circle cx="378.0" cy="254.1" r="0.9" fill="#2a2ae0" opacity="0.53"/>
<circle cx="442.6" cy="315.2" r="1.0" fill="#2a2ae0" opacity="0.24"/>
<circle cx="398.8" cy="316.1" r="1.3" fill="#2a2ae0" opacity="0.44"/>
<circle cx="404.3" cy="249.0" r="1.3" fill="#2a2ae0" opacity="0.28"/>
<circle cx="352.7" cy="232.5" r="1.1" fill="#2a2ae0" opacity="0.56"/>
<circle cx="377.7" cy="285.6" r="1.4" fill="#2a2ae0" opacity="0.55"/>
<circle cx="370.6" cy="253.5" r="1.1" fill="#2a2ae0" opacity="0.28"/>
<circle cx="427.3" cy="308.1" r="1.1" fill="#2a2ae0" opacity="0.29"/>
<circle cx="389.7" cy="278.8" r="1.3" fill="#2a2ae0" opacity="0.25"/>
<circle cx="324.6" cy="247.6" r="1.0" fill="#2a2ae0" opacity="0.38"/>
<circle cx="330.9" cy="231.9" r="1.3" fill="#2a2ae0" opacity="0.27"/>
<circle cx="420.5" cy="270.8" r="1.5" fill="#2a2ae0" opacity="0.21"/>
<circle cx="384.4" cy="298.9" r="1.0" fill="#2a2ae0" opacity="0.55"/>
<circle cx="343.6" cy="297.2" r="1.6" fill="#2a2ae0" opacity="0.50"/>
<circle cx="361.8" cy="234.9" r="1.3" fill="#2a2ae0" opacity="0.54"/>
<circle cx="358.6" cy="308.1" r="1.0" fill="#2a2ae0" opacity="0.53"/>
<circle cx="326.0" cy="254.3" r="1.5" fill="#2a2ae0" opacity="0.49"/>
<circle cx="434.8" cy="303.2" r="1.4" fill="#2a2ae0" opacity="0.44"/>
<circle cx="344.2" cy="265.2" r="1.0" fill="#2a2ae0" opacity="0.45"/>
<circle cx="405.0" cy="248.4" r="0.9" fill="#2a2ae0" opacity="0.55"/>
<circle cx="422.5" cy="276.0" r="1.3" fill="#2a2ae0" opacity="0.51"/>
<circle cx="378.4" cy="261.7" r="1.1" fill="#2a2ae0" opacity="0.26"/>
<circle cx="325.1" cy="285.1" r="1.2" fill="#2a2ae0" opacity="0.39"/>
<circle cx="329.8" cy="257.9" r="1.0" fill="#2a2ae0" opacity="0.20"/>
<circle cx="354.3" cy="302.1" r="1.2" fill="#2a2ae0" opacity="0.32"/>
<circle cx="398.2" cy="246.6" r="0.9" fill="#2a2ae0" opacity="0.37"/>
<circle cx="384.3" cy="285.3" r="1.2" fill="#2a2ae0" opacity="0.44"/>
<circle cx="412.9" cy="247.1" r="1.2" fill="#2a2ae0" opacity="0.35"/>
<circle cx="350.1" cy="263.3" r="1.3" fill="#2a2ae0" opacity="0.53"/>
<circle cx="436.1" cy="250.5" r="1.4" fill="#2a2ae0" opacity="0.17"/>
<circle cx="331.0" cy="272.5" r="1.5" fill="#2a2ae0" opacity="0.22"/>
<circle cx="417.2" cy="307.1" r="1.1" fill="#2a2ae0" opacity="0.44"/>
<circle cx="427.5" cy="259.5" r="1.4" fill="#2a2ae0" opacity="0.46"/>
<circle cx="395.9" cy="304.6" r="1.5" fill="#2a2ae0" opacity="0.55"/>
<circle cx="393.0" cy="241.3" r="1.1" fill="#2a2ae0" opacity="0.24"/>
<circle cx="392.8" cy="295.4" r="0.9" fill="#2a2ae0" opacity="0.44"/>
<circle cx="411.2" cy="257.3" r="1.3" fill="#2a2ae0" opacity="0.22"/>
<circle cx="412.8" cy="228.7" r="1.6" fill="#2a2ae0" opacity="0.49"/>
<circle cx="400.2" cy="249.8" r="1.5" fill="#2a2ae0" opacity="0.55"/>
<circle cx="339.4" cy="297.1" r="1.5" fill="#2a2ae0" opacity="0.43"/>
<circle cx="409.1" cy="266.3" r="1.5" fill="#2a2ae0" opacity="0.56"/>
<circle cx="369.6" cy="299.6" r="1.2" fill="#2a2ae0" opacity="0.22"/>
<circle cx="362.5" cy="236.7" r="1.5" fill="#2a2ae0" opacity="0.55"/>
<circle cx="336.9" cy="280.8" r="1.2" fill="#2a2ae0" opacity="0.20"/>
<circle cx="358.8" cy="248.0" r="1.4" fill="#2a2ae0" opacity="0.15"/>
<circle cx="345.7" cy="265.7" r="0.9" fill="#2a2ae0" opacity="0.41"/>
<circle cx="397.3" cy="302.7" r="1.0" fill="#2a2ae0" opacity="0.27"/>
<circle cx="389.5" cy="250.3" r="1.3" fill="#2a2ae0" opacity="0.26"/>
<circle cx="407.0" cy="298.6" r="1.5" fill="#2a2ae0" opacity="0.56"/>
<circle cx="389.8" cy="270.6" r="1.5" fill="#2a2ae0" opacity="0.47"/>
<circle cx="393.0" cy="260.6" r="1.1" fill="#2a2ae0" opacity="0.20"/>
<circle cx="422.4" cy="235.9" r="1.4" fill="#2a2ae0" opacity="0.38"/>
<circle cx="441.9" cy="295.8" r="1.6" fill="#2a2ae0" opacity="0.21"/>
<circle cx="384.2" cy="278.2" r="1.1" fill="#2a2ae0" opacity="0.36"/>
<circle cx="366.4" cy="274.1" r="0.9" fill="#2a2ae0" opacity="0.34"/>
<circle cx="377.9" cy="253.3" r="1.2" fill="#2a2ae0" opacity="0.48"/>
<circle cx="407.0" cy="270.7" r="1.4" fill="#2a2ae0" opacity="0.31"/>
<circle cx="347.4" cy="225.3" r="1.1" fill="#2a2ae0" opacity="0.40"/>
<circle cx="431.6" cy="302.1" r="1.3" fill="#2a2ae0" opacity="0.56"/>
<circle cx="379.4" cy="302.6" r="1.2" fill="#2a2ae0" opacity="0.46"/>
<circle cx="444.8" cy="253.3" r="1.0" fill="#2a2ae0" opacity="0.41"/>
<circle cx="388.0" cy="258.4" r="0.9" fill="#2a2ae0" opacity="0.31"/>
<circle cx="375.0" cy="262.6" r="1.5" fill="#2a2ae0" opacity="0.40"/>
<circle cx="413.2" cy="308.5" r="1.4" fill="#2a2ae0" opacity="0.36"/>
<circle cx="414.7" cy="284.5" r="1.4" fill="#2a2ae0" opacity="0.41"/>
<circle cx="372.6" cy="283.5" r="1.3" fill="#2a2ae0" opacity="0.54"/>
<circle cx="419.3" cy="303.7" r="1.4" fill="#2a2ae0" opacity="0.49"/>
<circle cx="397.3" cy="257.4" r="1.1" fill="#2a2ae0" opacity="0.45"/>
<circle cx="430.6" cy="275.6" r="1.0" fill="#2a2ae0" opacity="0.50"/>
<circle cx="382.3" cy="268.4" r="0.9" fill="#2a2ae0" opacity="0.36"/>
</g><g filter="url(#b6)">
<circle cx="435.6" cy="244.9" r="2.6" fill="#2222ff" opacity="1"/>
<circle cx="401.4" cy="231" r="1.6" fill="#2222ff" opacity="0.9"/>
<circle cx="407.7" cy="240.9" r="1.8" fill="#2222ff" opacity="0.9"/>
<circle cx="389.6" cy="275.8" r="2" fill="#2222ff" opacity="1"/>
<circle cx="405.4" cy="292" r="2" fill="#2222ff" opacity="1"/>
<circle cx="414.3" cy="289.7" r="1.8" fill="#2222ff" opacity="0.9"/>
<circle cx="423.8" cy="290.4" r="2" fill="#2222ff" opacity="0.9"/>
<circle cx="426.6" cy="293.9" r="2" fill="#2222ff" opacity="0.9"/>
<circle cx="421.4" cy="276.7" r="1.7" fill="#2222ff" opacity="0.9"/>
<circle cx="333" cy="269.2" r="1.7" fill="#2222ff" opacity="0.7"/>
<circle cx="337.7" cy="259.3" r="1.5" fill="#2222ff" opacity="0.7"/>
<circle cx="350.7" cy="259.7" r="1.5" fill="#2222ff" opacity="0.6"/>
<circle cx="361.3" cy="265.6" r="1.5" fill="#2222ff" opacity="0.6"/>
<circle cx="367.2" cy="264.5" r="1.5" fill="#2222ff" opacity="0.6"/>
<circle cx="343.6" cy="244.9" r="1.4" fill="#2222ff" opacity="0.4"/>
<circle cx="356.6" cy="302.2" r="1.6" fill="#2222ff" opacity="0.7"/>
<circle cx="364.8" cy="305" r="1.6" fill="#2222ff" opacity="0.7"/>
<circle cx="390.8" cy="303.4" r="1.5" fill="#2222ff" opacity="0.7"/>
<circle cx="381.3" cy="285.7" r="1.5" fill="#2222ff" opacity="0.7"/>
<circle cx="387.2" cy="282.8" r="1.5" fill="#2222ff" opacity="0.8"/>
<circle cx="397.8" cy="283.8" r="1.5" fill="#2222ff" opacity="0.7"/>
<circle cx="417.9" cy="257.4" r="1.5" fill="#2222ff" opacity="0.7"/>
<circle cx="442.6" cy="299.8" r="1.5" fill="#2222ff" opacity="0.7"/>
<circle cx="436.7" cy="226.7" r="1.6" fill="#2222ff" opacity="0.7"/>
<circle cx="440.3" cy="278.6" r="1.4" fill="#2222ff" opacity="0.6"/>
<circle cx="415.5" cy="269.2" r="1.4" fill="#2222ff" opacity="0.6"/>
<circle cx="362.5" cy="285.7" r="1.4" fill="#2222ff" opacity="0.6"/>
<circle cx="374.2" cy="311.6" r="1.4" fill="#2222ff" opacity="0.6"/>
<circle cx="416.7" cy="310.4" r="1.5" fill="#2222ff" opacity="0.7"/>
<circle cx="423.8" cy="297.5" r="1.5" fill="#2222ff" opacity="0.8"/>
<circle cx="379" cy="276.2" r="1.4" fill="#2222ff" opacity="0.6"/>
<circle cx="337.7" cy="297.5" r="1.4" fill="#2222ff" opacity="0.5"/>
<circle cx="432.7" cy="305.7" r="1.4" fill="#2222ff" opacity="0.6"/>
</g></svg>
<text x="324.70" y="236.00" font-size="11.7" text-anchor="start" font-weight="normal" fill="#fff" class="w">Sham</text>
<rect x="448.4" y="224.9" width="124.0" height="93.1" fill="#000"/>
<rect x="449.4" y="225.9" width="122.0" height="91.1" fill="#040226"/>
<svg x="449.4" y="225.9" width="122.0" height="91.1" viewBox="449.4 225.9 122.0 91.1">
<g filter="url(#b5)">
<ellipse cx="566.9" cy="314.4" rx="3.3" ry="3.3" fill="#1818a8" opacity="0.13"/>
<ellipse cx="539.7" cy="294.9" rx="4.5" ry="5.4" fill="#1818a8" opacity="0.11"/>
<ellipse cx="520.5" cy="259.2" rx="5.2" ry="4.6" fill="#1818a8" opacity="0.12"/>
<ellipse cx="571.8" cy="314.5" rx="5.7" ry="4.8" fill="#1818a8" opacity="0.08"/>
<ellipse cx="452.9" cy="250.1" rx="5.3" ry="4.3" fill="#1818a8" opacity="0.09"/>
<ellipse cx="559.0" cy="284.9" rx="5.8" ry="3.9" fill="#1818a8" opacity="0.05"/>
<ellipse cx="488.7" cy="257.7" rx="5.6" ry="7.0" fill="#1818a8" opacity="0.12"/>
<ellipse cx="470.9" cy="310.6" rx="7.0" ry="5.9" fill="#1818a8" opacity="0.14"/>
<ellipse cx="543.0" cy="303.3" rx="4.8" ry="6.9" fill="#1818a8" opacity="0.15"/>
<ellipse cx="468.4" cy="300.8" rx="6.6" ry="4.8" fill="#1818a8" opacity="0.10"/>
<ellipse cx="509.2" cy="312.8" rx="5.5" ry="6.3" fill="#1818a8" opacity="0.09"/>
<ellipse cx="557.9" cy="311.0" rx="5.3" ry="5.3" fill="#1818a8" opacity="0.14"/>
<ellipse cx="538.1" cy="282.2" rx="4.1" ry="4.3" fill="#1818a8" opacity="0.12"/>
<ellipse cx="469.0" cy="311.6" rx="4.3" ry="6.6" fill="#1818a8" opacity="0.08"/>
<ellipse cx="567.1" cy="297.5" rx="5.5" ry="5.1" fill="#1818a8" opacity="0.12"/>
<ellipse cx="521.3" cy="269.9" rx="4.0" ry="5.0" fill="#1818a8" opacity="0.14"/>
<ellipse cx="525.7" cy="253.4" rx="7.1" ry="5.9" fill="#1818a8" opacity="0.14"/>
<ellipse cx="472.1" cy="300.2" rx="3.3" ry="5.6" fill="#1818a8" opacity="0.08"/>
<ellipse cx="476.5" cy="309.3" rx="3.5" ry="5.1" fill="#1818a8" opacity="0.14"/>
<ellipse cx="478.8" cy="262.9" rx="7.4" ry="4.7" fill="#1818a8" opacity="0.12"/>
<ellipse cx="452.4" cy="273.5" rx="3.9" ry="5.7" fill="#1818a8" opacity="0.06"/>
<ellipse cx="566.8" cy="249.9" rx="6.6" ry="3.1" fill="#1818a8" opacity="0.08"/>
<ellipse cx="549.3" cy="259.1" rx="3.9" ry="5.8" fill="#1818a8" opacity="0.09"/>
<ellipse cx="453.8" cy="317.3" rx="3.8" ry="3.1" fill="#1818a8" opacity="0.08"/>
<ellipse cx="524.7" cy="300.0" rx="3.6" ry="4.3" fill="#1818a8" opacity="0.05"/>
<ellipse cx="504.0" cy="301.7" rx="6.7" ry="6.6" fill="#1818a8" opacity="0.13"/>
<ellipse cx="555.3" cy="297.4" rx="5.4" ry="3.9" fill="#1818a8" opacity="0.12"/>
<ellipse cx="487.6" cy="255.3" rx="5.2" ry="6.5" fill="#1818a8" opacity="0.06"/>
<ellipse cx="520.9" cy="275.6" rx="5.6" ry="3.6" fill="#1818a8" opacity="0.15"/>
<ellipse cx="480.5" cy="290.5" rx="5.1" ry="3.1" fill="#1818a8" opacity="0.11"/>
<ellipse cx="465.8" cy="252.1" rx="3.2" ry="3.6" fill="#1818a8" opacity="0.06"/>
</g><g filter="url(#b4)">
<circle cx="527.1" cy="272.2" r="1.6" fill="#2a2ae0" opacity="0.54"/>
<circle cx="571.7" cy="246.5" r="1.2" fill="#2a2ae0" opacity="0.26"/>
<circle cx="521.7" cy="283.0" r="1.5" fill="#2a2ae0" opacity="0.45"/>
<circle cx="480.2" cy="264.3" r="1.3" fill="#2a2ae0" opacity="0.15"/>
<circle cx="452.8" cy="263.0" r="1.0" fill="#2a2ae0" opacity="0.45"/>
<circle cx="478.3" cy="234.2" r="1.0" fill="#2a2ae0" opacity="0.25"/>
<circle cx="475.4" cy="273.4" r="1.2" fill="#2a2ae0" opacity="0.28"/>
<circle cx="528.0" cy="244.7" r="1.5" fill="#2a2ae0" opacity="0.55"/>
<circle cx="538.8" cy="265.3" r="1.3" fill="#2a2ae0" opacity="0.39"/>
<circle cx="454.8" cy="263.8" r="1.3" fill="#2a2ae0" opacity="0.23"/>
<circle cx="460.0" cy="299.6" r="1.2" fill="#2a2ae0" opacity="0.37"/>
<circle cx="562.7" cy="281.7" r="1.1" fill="#2a2ae0" opacity="0.56"/>
<circle cx="494.6" cy="226.7" r="1.4" fill="#2a2ae0" opacity="0.19"/>
<circle cx="486.3" cy="303.2" r="1.4" fill="#2a2ae0" opacity="0.16"/>
<circle cx="504.4" cy="263.1" r="1.2" fill="#2a2ae0" opacity="0.24"/>
<circle cx="521.4" cy="231.8" r="1.1" fill="#2a2ae0" opacity="0.31"/>
<circle cx="564.4" cy="232.0" r="1.4" fill="#2a2ae0" opacity="0.23"/>
<circle cx="519.3" cy="261.4" r="1.2" fill="#2a2ae0" opacity="0.47"/>
<circle cx="497.4" cy="236.2" r="1.0" fill="#2a2ae0" opacity="0.18"/>
<circle cx="553.8" cy="284.6" r="1.6" fill="#2a2ae0" opacity="0.44"/>
<circle cx="451.5" cy="286.3" r="1.4" fill="#2a2ae0" opacity="0.45"/>
<circle cx="510.1" cy="258.2" r="1.2" fill="#2a2ae0" opacity="0.49"/>
<circle cx="481.7" cy="273.9" r="1.2" fill="#2a2ae0" opacity="0.55"/>
<circle cx="548.1" cy="311.7" r="1.5" fill="#2a2ae0" opacity="0.27"/>
<circle cx="477.1" cy="270.4" r="1.1" fill="#2a2ae0" opacity="0.33"/>
<circle cx="532.6" cy="310.4" r="1.3" fill="#2a2ae0" opacity="0.49"/>
<circle cx="460.3" cy="258.0" r="1.6" fill="#2a2ae0" opacity="0.21"/>
<circle cx="500.1" cy="231.1" r="1.0" fill="#2a2ae0" opacity="0.53"/>
<circle cx="571.0" cy="285.2" r="1.0" fill="#2a2ae0" opacity="0.27"/>
<circle cx="477.1" cy="287.3" r="1.4" fill="#2a2ae0" opacity="0.33"/>
<circle cx="513.4" cy="235.3" r="1.3" fill="#2a2ae0" opacity="0.55"/>
<circle cx="542.1" cy="233.9" r="1.3" fill="#2a2ae0" opacity="0.45"/>
<circle cx="480.3" cy="308.2" r="1.2" fill="#2a2ae0" opacity="0.45"/>
<circle cx="498.5" cy="317.5" r="1.4" fill="#2a2ae0" opacity="0.39"/>
<circle cx="466.4" cy="266.0" r="0.9" fill="#2a2ae0" opacity="0.40"/>
<circle cx="557.7" cy="241.7" r="1.3" fill="#2a2ae0" opacity="0.35"/>
<circle cx="498.6" cy="291.0" r="1.6" fill="#2a2ae0" opacity="0.45"/>
<circle cx="507.0" cy="314.5" r="1.1" fill="#2a2ae0" opacity="0.46"/>
<circle cx="530.1" cy="295.8" r="1.5" fill="#2a2ae0" opacity="0.24"/>
<circle cx="525.4" cy="262.4" r="1.4" fill="#2a2ae0" opacity="0.56"/>
<circle cx="527.1" cy="226.0" r="1.2" fill="#2a2ae0" opacity="0.45"/>
<circle cx="557.9" cy="285.4" r="1.5" fill="#2a2ae0" opacity="0.16"/>
<circle cx="565.4" cy="292.8" r="1.3" fill="#2a2ae0" opacity="0.53"/>
<circle cx="558.1" cy="234.3" r="1.5" fill="#2a2ae0" opacity="0.47"/>
<circle cx="473.1" cy="294.2" r="1.3" fill="#2a2ae0" opacity="0.23"/>
<circle cx="548.1" cy="237.7" r="1.3" fill="#2a2ae0" opacity="0.33"/>
<circle cx="479.9" cy="277.6" r="1.2" fill="#2a2ae0" opacity="0.24"/>
<circle cx="568.3" cy="231.7" r="0.9" fill="#2a2ae0" opacity="0.35"/>
<circle cx="552.2" cy="286.2" r="1.4" fill="#2a2ae0" opacity="0.35"/>
<circle cx="532.1" cy="256.1" r="1.1" fill="#2a2ae0" opacity="0.36"/>
<circle cx="451.8" cy="232.3" r="1.4" fill="#2a2ae0" opacity="0.22"/>
<circle cx="541.4" cy="297.9" r="1.2" fill="#2a2ae0" opacity="0.43"/>
<circle cx="546.0" cy="305.3" r="1.0" fill="#2a2ae0" opacity="0.22"/>
<circle cx="495.7" cy="268.2" r="1.1" fill="#2a2ae0" opacity="0.15"/>
<circle cx="517.5" cy="314.9" r="1.2" fill="#2a2ae0" opacity="0.38"/>
<circle cx="495.8" cy="266.1" r="1.5" fill="#2a2ae0" opacity="0.28"/>
<circle cx="528.9" cy="269.9" r="1.3" fill="#2a2ae0" opacity="0.53"/>
<circle cx="457.9" cy="301.6" r="1.1" fill="#2a2ae0" opacity="0.42"/>
<circle cx="547.1" cy="285.7" r="1.2" fill="#2a2ae0" opacity="0.50"/>
<circle cx="459.9" cy="283.9" r="1.2" fill="#2a2ae0" opacity="0.37"/>
<circle cx="553.9" cy="299.2" r="1.3" fill="#2a2ae0" opacity="0.28"/>
<circle cx="477.3" cy="267.5" r="1.1" fill="#2a2ae0" opacity="0.27"/>
<circle cx="567.2" cy="235.3" r="1.5" fill="#2a2ae0" opacity="0.31"/>
<circle cx="493.6" cy="254.5" r="1.0" fill="#2a2ae0" opacity="0.34"/>
<circle cx="469.0" cy="266.1" r="1.1" fill="#2a2ae0" opacity="0.53"/>
<circle cx="562.7" cy="266.0" r="1.3" fill="#2a2ae0" opacity="0.54"/>
<circle cx="488.9" cy="234.2" r="1.1" fill="#2a2ae0" opacity="0.23"/>
<circle cx="532.5" cy="259.7" r="1.1" fill="#2a2ae0" opacity="0.48"/>
<circle cx="477.3" cy="300.2" r="1.3" fill="#2a2ae0" opacity="0.32"/>
<circle cx="550.5" cy="256.8" r="1.5" fill="#2a2ae0" opacity="0.54"/>
<circle cx="510.7" cy="289.1" r="1.6" fill="#2a2ae0" opacity="0.46"/>
<circle cx="541.5" cy="305.8" r="1.6" fill="#2a2ae0" opacity="0.47"/>
<circle cx="569.8" cy="252.0" r="1.3" fill="#2a2ae0" opacity="0.43"/>
<circle cx="494.0" cy="261.7" r="1.0" fill="#2a2ae0" opacity="0.55"/>
<circle cx="492.3" cy="269.3" r="1.5" fill="#2a2ae0" opacity="0.23"/>
<circle cx="567.5" cy="236.7" r="0.9" fill="#2a2ae0" opacity="0.30"/>
<circle cx="492.9" cy="310.3" r="1.5" fill="#2a2ae0" opacity="0.47"/>
<circle cx="502.5" cy="275.4" r="1.1" fill="#2a2ae0" opacity="0.50"/>
<circle cx="496.7" cy="251.4" r="1.3" fill="#2a2ae0" opacity="0.21"/>
<circle cx="487.6" cy="311.1" r="1.0" fill="#2a2ae0" opacity="0.21"/>
<circle cx="473.7" cy="248.3" r="1.2" fill="#2a2ae0" opacity="0.26"/>
<circle cx="490.9" cy="247.8" r="1.1" fill="#2a2ae0" opacity="0.41"/>
<circle cx="490.1" cy="259.6" r="1.4" fill="#2a2ae0" opacity="0.18"/>
<circle cx="466.3" cy="304.1" r="1.2" fill="#2a2ae0" opacity="0.48"/>
<circle cx="464.9" cy="273.6" r="1.5" fill="#2a2ae0" opacity="0.29"/>
<circle cx="543.7" cy="281.7" r="1.2" fill="#2a2ae0" opacity="0.57"/>
<circle cx="497.0" cy="269.0" r="1.3" fill="#2a2ae0" opacity="0.28"/>
<circle cx="552.3" cy="280.5" r="1.3" fill="#2a2ae0" opacity="0.38"/>
<circle cx="570.5" cy="317.0" r="1.5" fill="#2a2ae0" opacity="0.34"/>
<circle cx="499.5" cy="273.8" r="0.9" fill="#2a2ae0" opacity="0.20"/>
<circle cx="571.8" cy="236.8" r="1.6" fill="#2a2ae0" opacity="0.44"/>
<circle cx="561.9" cy="232.1" r="1.1" fill="#2a2ae0" opacity="0.49"/>
<circle cx="449.5" cy="234.8" r="1.1" fill="#2a2ae0" opacity="0.22"/>
<circle cx="466.6" cy="287.3" r="1.0" fill="#2a2ae0" opacity="0.56"/>
<circle cx="528.9" cy="229.5" r="1.5" fill="#2a2ae0" opacity="0.25"/>
</g><g filter="url(#b6)">
<circle cx="547.4" cy="292.8" r="3" fill="#2222ff" opacity="1"/>
<circle cx="562.7" cy="296.3" r="3.2" fill="#2222ff" opacity="1"/>
<circle cx="563.9" cy="311.6" r="2.4" fill="#2222ff" opacity="1"/>
<circle cx="535.6" cy="299.8" r="2.2" fill="#2222ff" opacity="1"/>
<circle cx="523.8" cy="309.7" r="2.2" fill="#2222ff" opacity="0.9"/>
<circle cx="549.8" cy="312.8" r="2.2" fill="#2222ff" opacity="0.9"/>
<circle cx="567.5" cy="271.5" r="2" fill="#2222ff" opacity="0.9"/>
<circle cx="566.3" cy="282.1" r="2" fill="#2222ff" opacity="0.9"/>
<circle cx="568.6" cy="288" r="2" fill="#2222ff" opacity="0.9"/>
<circle cx="525" cy="276.7" r="2" fill="#2222ff" opacity="0.9"/>
<circle cx="484.9" cy="263.3" r="1.8" fill="#2222ff" opacity="0.8"/>
<circle cx="453.5" cy="301" r="1.8" fill="#2222ff" opacity="0.8"/>
<circle cx="474.3" cy="302.2" r="1.6" fill="#2222ff" opacity="0.7"/>
<circle cx="502.6" cy="301" r="1.6" fill="#2222ff" opacity="0.7"/>
<circle cx="513.2" cy="304.5" r="1.6" fill="#2222ff" opacity="0.7"/>
<circle cx="492" cy="252.7" r="1.5" fill="#2222ff" opacity="0.6"/>
<circle cx="519.1" cy="243.2" r="1.5" fill="#2222ff" opacity="0.6"/>
<circle cx="466" cy="292.8" r="1.5" fill="#2222ff" opacity="0.6"/>
<circle cx="454.3" cy="276.7" r="1.5" fill="#2222ff" opacity="0.6"/>
<circle cx="481.4" cy="285.7" r="1.5" fill="#2222ff" opacity="0.6"/>
<circle cx="567.5" cy="245.6" r="1.5" fill="#2222ff" opacity="0.6"/>
<circle cx="483.7" cy="236.2" r="1.5" fill="#2222ff" opacity="0.5"/>
<circle cx="538" cy="271.5" r="1.5" fill="#2222ff" opacity="0.6"/>
<circle cx="556.8" cy="304.5" r="2" fill="#2222ff" opacity="0.9"/>
<circle cx="556" cy="297" r="2" fill="#2222ff" opacity="0.8"/>
<circle cx="543" cy="305" r="1.8" fill="#2222ff" opacity="0.8"/>
<circle cx="509.2" cy="255" r="1.4" fill="#f02a58" opacity="0.95"/>
<circle cx="503.8" cy="263.3" r="1.4" fill="#f02a58" opacity="0.95"/>
<circle cx="536.1" cy="244.9" r="0.95" fill="#f02a58" opacity="0.95"/>
<circle cx="552.1" cy="235.7" r="0.95" fill="#f02a58" opacity="0.95"/>
<circle cx="517.9" cy="264.5" r="0.95" fill="#f02a58" opacity="0.95"/>
<circle cx="514.4" cy="276.7" r="0.95" fill="#f02a58" opacity="0.95"/>
<circle cx="521" cy="283.8" r="0.95" fill="#f02a58" opacity="0.95"/>
<circle cx="505" cy="281" r="0.95" fill="#f02a58" opacity="0.95"/>
<circle cx="528.5" cy="290.4" r="0.95" fill="#f02a58" opacity="0.95"/>
<circle cx="541.5" cy="293.9" r="0.95" fill="#f02a58" opacity="0.95"/>
<circle cx="464.4" cy="289.2" r="0.95" fill="#f02a58" opacity="0.95"/>
<circle cx="469.6" cy="266.8" r="0.95" fill="#f02a58" opacity="0.95"/>
<circle cx="480.9" cy="261.6" r="0.95" fill="#f02a58" opacity="0.95"/>
<circle cx="488" cy="239.7" r="0.95" fill="#f02a58" opacity="0.95"/>
<circle cx="490.8" cy="305.7" r="0.95" fill="#f02a58" opacity="0.95"/>
<circle cx="549.8" cy="282.1" r="0.95" fill="#f02a58" opacity="0.95"/>
<circle cx="561.6" cy="256.2" r="0.95" fill="#f02a58" opacity="0.95"/>
<circle cx="551" cy="302.2" r="0.95" fill="#f02a58" opacity="0.95"/>
<circle cx="565.1" cy="303.4" r="0.95" fill="#f02a58" opacity="0.95"/>
<circle cx="529.7" cy="278.6" r="0.95" fill="#f02a58" opacity="0.95"/>
<circle cx="500.2" cy="292.8" r="0.95" fill="#f02a58" opacity="0.95"/>
<circle cx="476.7" cy="293.9" r="0.95" fill="#f02a58" opacity="0.95"/>
</g></svg>
<text x="451.00" y="236.00" font-size="11.7" text-anchor="start" font-weight="normal" fill="#fff" class="w">ICH + Vehicle</text>
<rect x="386.8" y="320.9" width="123.7" height="92.9" fill="#000"/>
<rect x="387.8" y="321.9" width="121.7" height="90.9" fill="#020113"/>
<svg x="387.8" y="321.9" width="121.7" height="90.9" viewBox="387.8 321.9 121.7 90.9">
<g filter="url(#b5)">
<ellipse cx="416.2" cy="382.0" rx="4.8" ry="5.4" fill="#1818a8" opacity="0.11"/>
<ellipse cx="394.9" cy="345.0" rx="7.2" ry="4.0" fill="#1818a8" opacity="0.07"/>
<ellipse cx="510.0" cy="376.9" rx="7.2" ry="4.9" fill="#1818a8" opacity="0.11"/>
<ellipse cx="405.4" cy="388.4" rx="7.3" ry="5.1" fill="#1818a8" opacity="0.12"/>
<ellipse cx="469.9" cy="348.6" rx="6.8" ry="5.4" fill="#1818a8" opacity="0.08"/>
<ellipse cx="390.6" cy="404.4" rx="5.4" ry="5.9" fill="#1818a8" opacity="0.14"/>
<ellipse cx="475.1" cy="408.3" rx="5.0" ry="6.2" fill="#1818a8" opacity="0.09"/>
<ellipse cx="502.5" cy="405.4" rx="3.5" ry="3.5" fill="#1818a8" opacity="0.07"/>
<ellipse cx="506.2" cy="374.5" rx="6.1" ry="4.2" fill="#1818a8" opacity="0.10"/>
<ellipse cx="434.5" cy="368.6" rx="5.9" ry="5.3" fill="#1818a8" opacity="0.14"/>
</g><g filter="url(#b4)">
<circle cx="471.2" cy="407.2" r="1.5" fill="#2a2ae0" opacity="0.57"/>
<circle cx="469.8" cy="336.1" r="1.5" fill="#2a2ae0" opacity="0.56"/>
<circle cx="498.7" cy="373.8" r="1.4" fill="#2a2ae0" opacity="0.24"/>
<circle cx="489.7" cy="374.2" r="1.1" fill="#2a2ae0" opacity="0.18"/>
<circle cx="492.4" cy="412.9" r="1.0" fill="#2a2ae0" opacity="0.49"/>
<circle cx="437.6" cy="334.9" r="1.1" fill="#2a2ae0" opacity="0.47"/>
<circle cx="494.8" cy="325.0" r="1.3" fill="#2a2ae0" opacity="0.17"/>
<circle cx="475.7" cy="351.6" r="1.5" fill="#2a2ae0" opacity="0.56"/>
<circle cx="449.3" cy="413.7" r="1.1" fill="#2a2ae0" opacity="0.18"/>
<circle cx="461.0" cy="323.8" r="1.0" fill="#2a2ae0" opacity="0.32"/>
<circle cx="462.3" cy="335.4" r="0.9" fill="#2a2ae0" opacity="0.51"/>
<circle cx="425.6" cy="410.0" r="1.5" fill="#2a2ae0" opacity="0.31"/>
<circle cx="443.8" cy="369.2" r="1.4" fill="#2a2ae0" opacity="0.40"/>
<circle cx="456.0" cy="378.5" r="1.6" fill="#2a2ae0" opacity="0.36"/>
<circle cx="440.1" cy="387.8" r="1.1" fill="#2a2ae0" opacity="0.28"/>
<circle cx="507.8" cy="369.3" r="1.3" fill="#2a2ae0" opacity="0.15"/>
<circle cx="438.2" cy="374.8" r="0.9" fill="#2a2ae0" opacity="0.41"/>
<circle cx="465.0" cy="326.5" r="1.3" fill="#2a2ae0" opacity="0.35"/>
<circle cx="470.8" cy="353.7" r="1.4" fill="#2a2ae0" opacity="0.46"/>
<circle cx="389.5" cy="326.5" r="1.4" fill="#2a2ae0" opacity="0.55"/>
<circle cx="417.9" cy="363.3" r="1.3" fill="#2a2ae0" opacity="0.28"/>
<circle cx="431.8" cy="349.9" r="1.2" fill="#2a2ae0" opacity="0.40"/>
<circle cx="424.0" cy="355.9" r="1.4" fill="#2a2ae0" opacity="0.16"/>
<circle cx="457.2" cy="389.2" r="1.1" fill="#2a2ae0" opacity="0.24"/>
<circle cx="486.2" cy="343.1" r="1.0" fill="#2a2ae0" opacity="0.33"/>
<circle cx="473.2" cy="330.4" r="1.1" fill="#2a2ae0" opacity="0.29"/>
<circle cx="489.9" cy="361.6" r="1.5" fill="#2a2ae0" opacity="0.22"/>
<circle cx="428.5" cy="381.3" r="1.5" fill="#2a2ae0" opacity="0.34"/>
<circle cx="414.6" cy="332.1" r="1.3" fill="#2a2ae0" opacity="0.23"/>
<circle cx="486.6" cy="398.8" r="1.0" fill="#2a2ae0" opacity="0.27"/>
</g><g filter="url(#b6)">
<circle cx="428.8" cy="362.3" r="1.6" fill="#2222ff" opacity="0.8"/>
<circle cx="434" cy="365.2" r="1.6" fill="#2222ff" opacity="0.8"/>
<circle cx="438.7" cy="368.7" r="1.5" fill="#2222ff" opacity="0.7"/>
<circle cx="446.5" cy="340.9" r="1.5" fill="#2222ff" opacity="0.7"/>
<circle cx="467.7" cy="376.5" r="1.6" fill="#2222ff" opacity="0.8"/>
<circle cx="485.9" cy="377" r="1.5" fill="#2222ff" opacity="0.7"/>
<circle cx="483" cy="365.2" r="1.5" fill="#2222ff" opacity="0.7"/>
<circle cx="492.5" cy="356.9" r="1.6" fill="#2222ff" opacity="0.8"/>
<circle cx="480.7" cy="354.6" r="1.4" fill="#2222ff" opacity="0.6"/>
<circle cx="454.3" cy="388.8" r="1.6" fill="#2222ff" opacity="0.8"/>
<circle cx="459" cy="391.6" r="1.6" fill="#2222ff" opacity="0.8"/>
<circle cx="454.8" cy="401" r="2.4" fill="#2222ff" opacity="1"/>
<circle cx="452.4" cy="407.6" r="1.8" fill="#2222ff" opacity="0.9"/>
<circle cx="471.3" cy="400.5" r="1.5" fill="#2222ff" opacity="0.7"/>
<circle cx="466.5" cy="388.8" r="1.5" fill="#2222ff" opacity="0.7"/>
<circle cx="395.8" cy="394.7" r="1.6" fill="#2222ff" opacity="0.7"/>
<circle cx="498.4" cy="338.8" r="1.5" fill="#2222ff" opacity="0.7"/>
<circle cx="505.5" cy="333.3" r="1.5" fill="#2222ff" opacity="0.7"/>
<circle cx="490.1" cy="338" r="1.4" fill="#2222ff" opacity="0.6"/>
<circle cx="472.4" cy="332.2" r="1.3" fill="#2222ff" opacity="0.5"/>
<circle cx="499.6" cy="398.2" r="1.4" fill="#2222ff" opacity="0.6"/>
<circle cx="481.9" cy="397" r="1.4" fill="#2222ff" opacity="0.6"/>
<circle cx="445.3" cy="406.4" r="1.4" fill="#2222ff" opacity="0.7"/>
<circle cx="412.3" cy="380.5" r="1.3" fill="#2222ff" opacity="0.5"/>
<circle cx="401.7" cy="368.7" r="1.3" fill="#2222ff" opacity="0.5"/>
<circle cx="450" cy="378.8" r="1.3" fill="#2222ff" opacity="0.6"/>
<circle cx="487.8" cy="395.8" r="1.3" fill="#2222ff" opacity="0.5"/>
<circle cx="406.9" cy="355.3" r="0.9" fill="#f02a58" opacity="0.95"/>
<circle cx="421" cy="368.7" r="0.9" fill="#f02a58" opacity="0.95"/>
<circle cx="427.6" cy="377" r="0.9" fill="#f02a58" opacity="0.95"/>
<circle cx="440.6" cy="377" r="0.9" fill="#f02a58" opacity="0.95"/>
<circle cx="420.6" cy="397" r="0.9" fill="#f02a58" opacity="0.95"/>
<circle cx="496" cy="366.3" r="0.9" fill="#f02a58" opacity="0.95"/>
</g></svg>
<text x="389.40" y="332.00" font-size="11.7" text-anchor="start" font-weight="normal" fill="#fff" class="w">ICH +CLM</text>
<rect x="485" y="405.2" width="20.3" height="2.1" fill="#fff"/>
<line x1="619.60" y1="264.70" x2="619.60" y2="392.30" stroke="#000" stroke-width="1.3"/>
<line x1="619.00" y1="391.70" x2="743.40" y2="391.70" stroke="#000" stroke-width="1.3"/>
<line x1="614.60" y1="391.70" x2="619.60" y2="391.70" stroke="#000" stroke-width="1.2"/>
<text x="612.90" y="395.50" font-size="11.1" text-anchor="end" font-weight="normal" fill="#000" >0</text>
<line x1="614.60" y1="366.42" x2="619.60" y2="366.42" stroke="#000" stroke-width="1.2"/>
<text x="612.90" y="370.22" font-size="11.1" text-anchor="end" font-weight="normal" fill="#000" >10</text>
<line x1="614.60" y1="341.14" x2="619.60" y2="341.14" stroke="#000" stroke-width="1.2"/>
<text x="612.90" y="344.94" font-size="11.1" text-anchor="end" font-weight="normal" fill="#000" >20</text>
<line x1="614.60" y1="315.86" x2="619.60" y2="315.86" stroke="#000" stroke-width="1.2"/>
<text x="612.90" y="319.66" font-size="11.1" text-anchor="end" font-weight="normal" fill="#000" >30</text>
<line x1="614.60" y1="290.58" x2="619.60" y2="290.58" stroke="#000" stroke-width="1.2"/>
<text x="612.90" y="294.38" font-size="11.1" text-anchor="end" font-weight="normal" fill="#000" >40</text>
<line x1="614.60" y1="265.30" x2="619.60" y2="265.30" stroke="#000" stroke-width="1.2"/>
<text x="612.90" y="269.10" font-size="11.1" text-anchor="end" font-weight="normal" fill="#000" >50</text>
<path d="M641.40 386.90V382.85M634.10 382.85H648.70" stroke="#000" stroke-width="1.2" fill="none"/>
<rect x="627.65" y="386.90" width="27.50" height="4.80" fill="#ff0000" stroke="#000" stroke-width="1.1"/>
<line x1="641.40" y1="391.70" x2="641.40" y2="396.20" stroke="#000" stroke-width="1.2"/>
<path d="M683.85 282.49V274.15M676.55 274.15H691.15" stroke="#000" stroke-width="1.2" fill="none"/>
<rect x="670.25" y="282.49" width="27.20" height="109.21" fill="#00ff00" stroke="#000" stroke-width="1.1"/>
<line x1="683.85" y1="391.70" x2="683.85" y2="396.20" stroke="#000" stroke-width="1.2"/>
<path d="M725.85 350.49V342.66M718.55 342.66H733.15" stroke="#000" stroke-width="1.2" fill="none"/>
<rect x="712.15" y="350.49" width="27.40" height="41.21" fill="#0000ff" stroke="#000" stroke-width="1.1"/>
<line x1="725.85" y1="391.70" x2="725.85" y2="396.20" stroke="#000" stroke-width="1.2"/>
<line x1="643.40" y1="267.80" x2="680.10" y2="267.80" stroke="#000" stroke-width="1.3"/>
<text x="661.70" y="268.30" font-size="11" text-anchor="middle" font-weight="normal" fill="#000" >***</text>
<line x1="687.00" y1="268.20" x2="726.20" y2="268.20" stroke="#000" stroke-width="1.3"/>
<text x="704.40" y="268.50" font-size="11" text-anchor="middle" font-weight="normal" fill="#000" >***</text>
<text x="595.80" y="329.10" font-size="11.4" text-anchor="middle" font-weight="normal" fill="#000" transform="rotate(-90 595.8 329.1)" word-spacing="0.8">Apoptosis rate (%)</text>
<rect x="739.60" y="270.60" width="14.10" height="6.80" fill="#ff0000" stroke="#000" stroke-width="1.2"/>
<text x="761.00" y="277.40" font-size="11.4" text-anchor="start" font-weight="normal" fill="#000" >Sham</text>
<rect x="739.60" y="285.15" width="14.10" height="6.80" fill="#00ff00" stroke="#000" stroke-width="1.2"/>
<text x="761.00" y="292.00" font-size="11.4" text-anchor="start" font-weight="normal" fill="#000" >ICH+vehicle</text>
<rect x="739.60" y="299.70" width="14.10" height="6.80" fill="#0000ff" stroke="#000" stroke-width="1.2"/>
<text x="761.00" y="306.60" font-size="11.4" text-anchor="start" font-weight="normal" fill="#000" >ICH+CLM</text>
</svg>
</body></html>
